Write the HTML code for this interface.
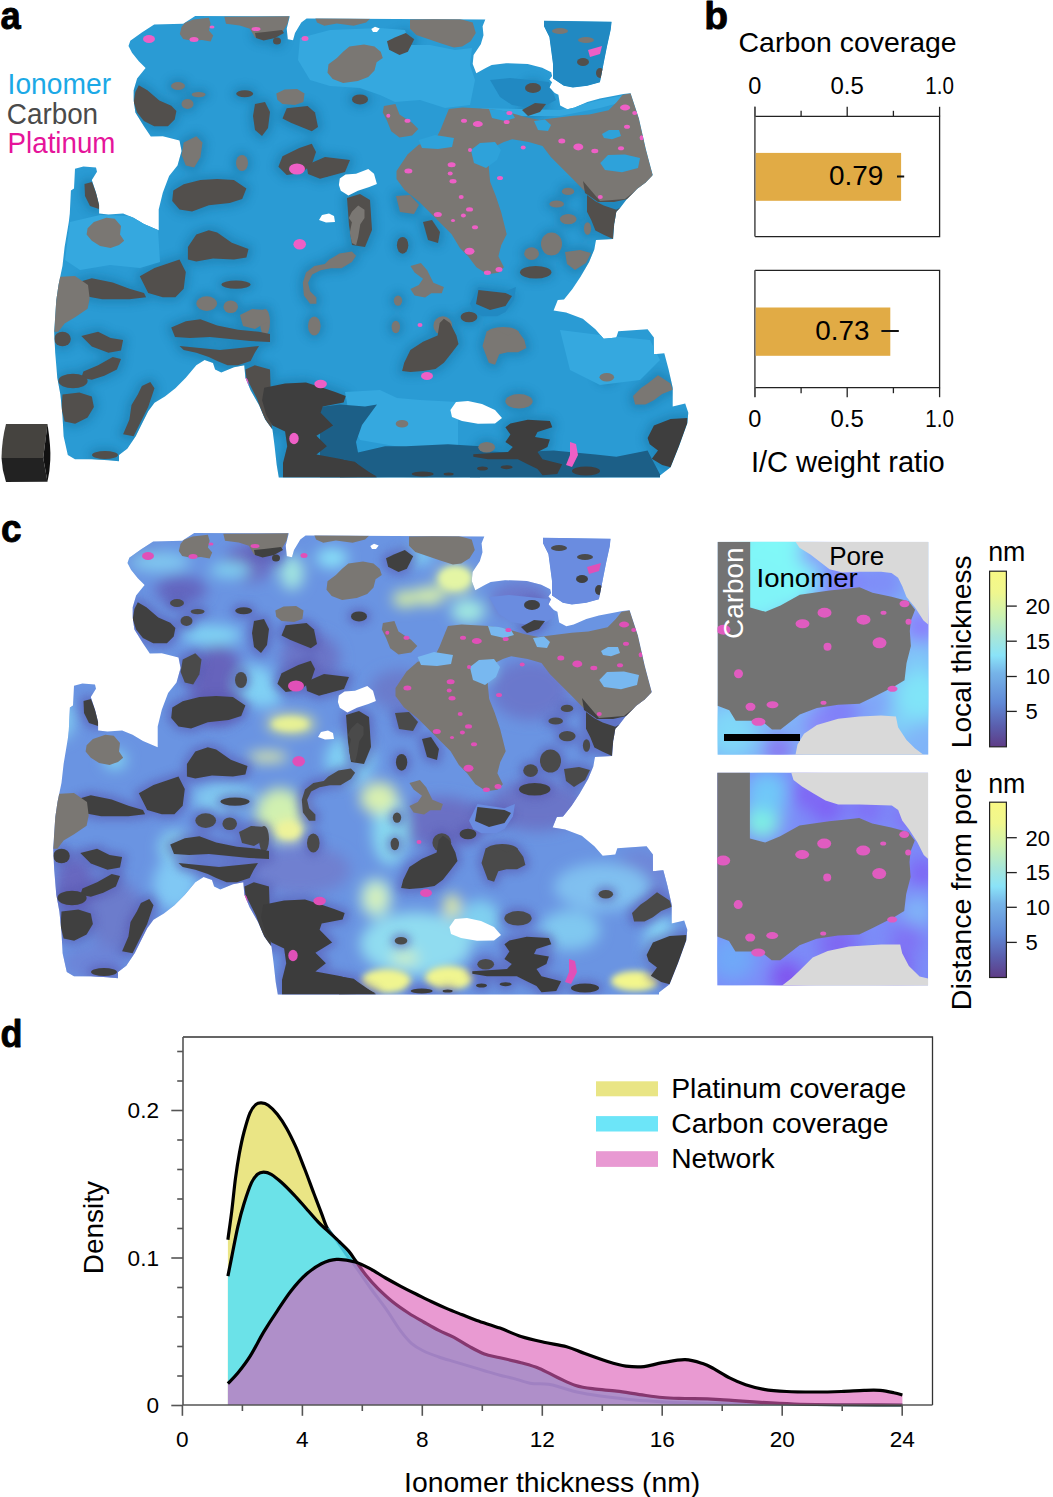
<!DOCTYPE html><html><head><meta charset="utf-8"><style>html,body{margin:0;padding:0;background:#fff;overflow:hidden;width:1053px;height:1497px;}svg{display:block;}text{font-family:"Liberation Sans",sans-serif;}</style></head><body>
<svg width="1053" height="1497" viewBox="0 0 1053 1497">
<defs>
<clipPath id="silA"><path d="M142.2,32.2 L154.2,24.5 L183.2,23.7 L195.2,16.0 L289.8,16.3 L286.7,28.8 L287.8,39.3 L293.0,40.3 L295.0,33.0 L301.3,22.5 L306.6,18.4 L485.3,19.4 L482.6,26.2 L483.5,35.3 L480.8,44.3 L473.6,55.1 L472.7,64.1 L476.3,73.2 L486.2,67.7 L491.7,65.0 L506.1,63.2 L527.7,64.1 L542.2,67.7 L551.2,72.3 L552.1,75.9 L549.4,79.5 L552.1,82.2 L549.4,87.6 L554.8,93.0 L558.4,94.8 L560.2,105.6 L567.4,109.2 L574.7,107.4 L587.3,102.0 L599.9,98.4 L614.4,95.7 L623.4,93.9 L630.6,93.2 L638.9,118.6 L645.8,148.9 L652.7,175.0 L645.5,182.5 L637.2,188.8 L626.7,199.3 L620.4,207.6 L616.3,211.8 L614.2,224.3 L613.1,239.0 L596.0,240.0 L594.3,249.4 L589.1,262.0 L580.7,276.6 L572.4,289.1 L564.0,299.5 L557.8,300.0 L553.6,310.4 L566.1,312.5 L582.8,318.8 L595.4,329.3 L603.7,338.7 L616.3,337.6 L618.3,331.3 L647.6,329.3 L653.9,337.6 L653.9,354.3 L664.3,353.3 L668.5,369.0 L672.7,387.8 L672.7,406.6 L685.2,403.4 L688.3,412.8 L687.3,423.3 L679.0,446.3 L670.6,467.2 L660.0,475.5 L660.0,477.6 L278.8,477.6 L276.7,465.0 L274.6,446.3 L272.5,429.5 L265.2,419.5 L259.0,404.9 L250.6,390.3 L245.4,377.8 L244.3,365.2 L233.9,367.3 L221.3,372.5 L215.1,369.4 L213.0,363.1 L204.6,360.0 L196.3,365.2 L185.8,377.8 L175.4,388.2 L164.9,396.6 L154.5,402.8 L148.2,411.2 L141.9,423.7 L135.7,436.3 L127.3,448.8 L119.0,455.0 L119.0,461.3 L108.5,460.3 L91.8,459.2 L75.0,459.2 L67.8,455.0 L63.6,436.3 L62.5,415.4 L60.4,394.5 L57.3,377.8 L55.2,352.7 L54.2,331.8 L56.3,300.0 L58.5,285.0 L62.5,265.8 L64.6,247.0 L68.8,222.0 L69.8,213.6 L70.9,190.6 L74.0,188.5 L75.0,168.7 L83.4,166.6 L96.0,167.6 L97.0,171.8 L91.8,180.1 L96.0,192.7 L99.1,205.2 L99.1,213.6 L108.5,214.6 L123.1,213.6 L133.6,217.8 L144.0,224.0 L158.7,230.3 L158.7,222.0 L158.7,209.4 L162.8,192.7 L169.1,176.0 L177.5,165.5 L181.6,150.9 L179.5,140.4 L162.8,136.3 L150.8,136.5 L143.9,126.2 L135.4,112.6 L133.7,100.6 L133.7,90.3 L137.1,78.4 L145.6,68.1 L138.8,61.3 L132.0,52.7 L128.5,45.9 L130.3,40.8 Z M544.0,20.8 L611.6,21.7 L610.7,29.8 L607.1,46.1 L603.5,64.1 L599.9,82.2 L587.3,85.8 L572.9,87.6 L563.8,85.8 L553.0,78.6 L553.0,64.1 L549.4,37.1 L544.0,26.2 Z"/></clipPath>
<clipPath id="silC"><path transform="translate(-1,517)" d="M142.2,32.2 L154.2,24.5 L183.2,23.7 L195.2,16.0 L289.8,16.3 L286.7,28.8 L287.8,39.3 L293.0,40.3 L295.0,33.0 L301.3,22.5 L306.6,18.4 L485.3,19.4 L482.6,26.2 L483.5,35.3 L480.8,44.3 L473.6,55.1 L472.7,64.1 L476.3,73.2 L486.2,67.7 L491.7,65.0 L506.1,63.2 L527.7,64.1 L542.2,67.7 L551.2,72.3 L552.1,75.9 L549.4,79.5 L552.1,82.2 L549.4,87.6 L554.8,93.0 L558.4,94.8 L560.2,105.6 L567.4,109.2 L574.7,107.4 L587.3,102.0 L599.9,98.4 L614.4,95.7 L623.4,93.9 L630.6,93.2 L638.9,118.6 L645.8,148.9 L652.7,175.0 L645.5,182.5 L637.2,188.8 L626.7,199.3 L620.4,207.6 L616.3,211.8 L614.2,224.3 L613.1,239.0 L596.0,240.0 L594.3,249.4 L589.1,262.0 L580.7,276.6 L572.4,289.1 L564.0,299.5 L557.8,300.0 L553.6,310.4 L566.1,312.5 L582.8,318.8 L595.4,329.3 L603.7,338.7 L616.3,337.6 L618.3,331.3 L647.6,329.3 L653.9,337.6 L653.9,354.3 L664.3,353.3 L668.5,369.0 L672.7,387.8 L672.7,406.6 L685.2,403.4 L688.3,412.8 L687.3,423.3 L679.0,446.3 L670.6,467.2 L660.0,475.5 L660.0,477.6 L278.8,477.6 L276.7,465.0 L274.6,446.3 L272.5,429.5 L265.2,419.5 L259.0,404.9 L250.6,390.3 L245.4,377.8 L244.3,365.2 L233.9,367.3 L221.3,372.5 L215.1,369.4 L213.0,363.1 L204.6,360.0 L196.3,365.2 L185.8,377.8 L175.4,388.2 L164.9,396.6 L154.5,402.8 L148.2,411.2 L141.9,423.7 L135.7,436.3 L127.3,448.8 L119.0,455.0 L119.0,461.3 L108.5,460.3 L91.8,459.2 L75.0,459.2 L67.8,455.0 L63.6,436.3 L62.5,415.4 L60.4,394.5 L57.3,377.8 L55.2,352.7 L54.2,331.8 L56.3,300.0 L58.5,285.0 L62.5,265.8 L64.6,247.0 L68.8,222.0 L69.8,213.6 L70.9,190.6 L74.0,188.5 L75.0,168.7 L83.4,166.6 L96.0,167.6 L97.0,171.8 L91.8,180.1 L96.0,192.7 L99.1,205.2 L99.1,213.6 L108.5,214.6 L123.1,213.6 L133.6,217.8 L144.0,224.0 L158.7,230.3 L158.7,222.0 L158.7,209.4 L162.8,192.7 L169.1,176.0 L177.5,165.5 L181.6,150.9 L179.5,140.4 L162.8,136.3 L150.8,136.5 L143.9,126.2 L135.4,112.6 L133.7,100.6 L133.7,90.3 L137.1,78.4 L145.6,68.1 L138.8,61.3 L132.0,52.7 L128.5,45.9 L130.3,40.8 Z M544.0,20.8 L611.6,21.7 L610.7,29.8 L607.1,46.1 L603.5,64.1 L599.9,82.2 L587.3,85.8 L572.9,87.6 L563.8,85.8 L553.0,78.6 L553.0,64.1 L549.4,37.1 L544.0,26.2 Z"/></clipPath>
<linearGradient id="cbar" x1="0" y1="1" x2="0" y2="0">
<stop offset="0" stop-color="#5e3c86"/><stop offset="0.12" stop-color="#5a5fae"/><stop offset="0.25" stop-color="#6189d6"/><stop offset="0.42" stop-color="#76b4e8"/><stop offset="0.52" stop-color="#8ae3f8"/><stop offset="0.62" stop-color="#a6e6da"/><stop offset="0.75" stop-color="#cdf2b0"/><stop offset="0.88" stop-color="#f0f78e"/><stop offset="1" stop-color="#f8f884"/>
</linearGradient>
<linearGradient id="insetIon1" x1="0" y1="0" x2="1" y2="0.3"><stop offset="0" stop-color="#7ef3f6"/><stop offset="0.45" stop-color="#86a0fb"/><stop offset="1" stop-color="#7fd6f8"/></linearGradient>
<linearGradient id="insetIon2" x1="0" y1="0" x2="1" y2="0.3"><stop offset="0" stop-color="#7fdaf8"/><stop offset="0.45" stop-color="#8a60f5"/><stop offset="1" stop-color="#7f8cf8"/></linearGradient>
<radialGradient id="insetGlow1"><stop offset="0" stop-color="#fff" stop-opacity="0"/><stop offset="1" stop-color="#fff" stop-opacity="0"/></radialGradient>
<radialGradient id="insetGlow2"><stop offset="0" stop-color="#fff" stop-opacity="0"/><stop offset="1" stop-color="#fff" stop-opacity="0"/></radialGradient>
<filter id="blurC" x="-20%" y="-20%" width="140%" height="140%"><feGaussianBlur stdDeviation="7"/></filter>
<filter id="blurY" x="-30%" y="-30%" width="160%" height="160%"><feGaussianBlur stdDeviation="3"/></filter>
<filter id="blurH" x="-30%" y="-30%" width="160%" height="160%"><feGaussianBlur stdDeviation="4"/></filter>
<filter id="blur8" x="-50%" y="-50%" width="200%" height="200%"><feGaussianBlur stdDeviation="9"/></filter>
<clipPath id="plotClip"><rect x="183" y="1037" width="750" height="368"/></clipPath>
<clipPath id="carbArea"><path d="M227.9,1276.1 C228.5,1272.9 230.0,1265.3 231.7,1257.1 C233.3,1248.9 235.8,1235.6 237.8,1226.8 C239.8,1218.0 241.6,1211.3 243.9,1204.0 C246.2,1196.7 249.2,1187.7 251.5,1182.7 C253.8,1177.8 255.5,1176.1 257.5,1174.3 C259.5,1172.5 261.3,1172.1 263.6,1172.1 C265.9,1172.1 268.1,1172.5 271.2,1174.3 C274.2,1176.1 278.1,1179.3 281.9,1182.7 C285.7,1186.1 289.9,1190.5 294.0,1194.8 C298.1,1199.1 302.1,1203.9 306.2,1208.5 C310.2,1213.1 314.8,1218.5 318.3,1222.2 C321.8,1225.9 323.8,1227.3 327.4,1230.6 C330.9,1233.9 336.1,1238.6 339.6,1242.0 C343.2,1245.4 345.9,1247.8 348.7,1251.1 C351.5,1254.4 353.4,1257.7 356.3,1261.7 C359.2,1265.7 362.2,1270.5 365.8,1275.0 C369.4,1279.5 373.4,1284.0 378.0,1288.6 C382.6,1293.1 388.1,1298.2 393.2,1302.3 C398.3,1306.4 403.3,1309.7 408.4,1313.0 C413.5,1316.3 418.5,1319.1 423.6,1322.0 C428.7,1324.9 433.7,1327.9 438.8,1330.4 C443.9,1333.0 448.9,1334.6 454.0,1337.3 C459.1,1340.0 464.1,1343.6 469.2,1346.4 C474.3,1349.2 479.3,1352.1 484.4,1354.0 C489.5,1355.9 493.9,1356.3 500.0,1357.8 C506.1,1359.2 514.5,1360.9 521.0,1362.7 C527.5,1364.5 533.2,1365.9 539.3,1368.4 C545.4,1370.9 551.4,1374.7 557.5,1377.5 C563.6,1380.3 569.6,1383.6 575.7,1385.5 C581.8,1387.4 587.1,1388.0 594.0,1388.9 C600.9,1389.9 609.2,1390.2 616.8,1391.2 C624.4,1392.2 631.9,1393.5 639.5,1394.6 C647.1,1395.6 654.7,1396.8 662.3,1397.5 C669.9,1398.2 675.5,1398.2 685.1,1398.5 C694.7,1398.8 701.9,1398.7 720.0,1399.6 C738.1,1400.5 763.6,1403.1 794.0,1404.0 C824.4,1404.9 884.2,1404.8 902.3,1405.0 L902.3,1405 L227.9,1405 Z"/></clipPath>
<clipPath id="platArea"><path d="M227.9,1239.7 C228.5,1235.0 230.4,1221.9 231.7,1211.6 C233.0,1201.3 234.2,1187.7 235.5,1178.1 C236.8,1168.5 237.9,1161.4 239.3,1153.8 C240.7,1146.2 242.1,1139.3 243.9,1132.5 C245.7,1125.7 248.0,1117.5 250.0,1112.8 C252.0,1108.1 254.1,1106.1 256.0,1104.4 C257.9,1102.8 259.3,1102.8 261.3,1102.9 C263.3,1103.0 265.5,1103.3 268.2,1105.2 C270.9,1107.1 274.3,1110.5 277.3,1114.3 C280.3,1118.1 283.4,1122.7 286.4,1128.0 C289.4,1133.3 292.4,1139.4 295.5,1146.2 C298.6,1153.0 301.6,1161.2 304.7,1169.0 C307.8,1176.8 311.0,1186.0 313.8,1193.3 C316.6,1200.6 319.1,1207.3 321.4,1213.1 C323.7,1218.9 324.9,1223.8 327.4,1228.3 C329.9,1232.8 333.5,1236.1 336.6,1240.4 C339.7,1244.7 342.9,1249.7 346.0,1254.0 C349.1,1258.3 351.1,1260.3 355.2,1266.0 C359.3,1271.7 365.3,1280.9 370.4,1288.0 C375.5,1295.1 380.5,1301.2 385.6,1308.4 C390.7,1315.6 396.5,1325.4 400.8,1331.2 C405.1,1337.0 407.6,1340.0 411.4,1343.3 C415.2,1346.6 419.0,1348.7 423.6,1351.0 C428.2,1353.3 433.7,1355.2 438.8,1357.0 C443.9,1358.8 448.9,1360.1 454.0,1361.6 C459.1,1363.1 464.1,1364.6 469.2,1366.1 C474.3,1367.6 479.3,1369.2 484.4,1370.7 C489.5,1372.2 495.0,1373.9 500.0,1375.2 C505.0,1376.5 509.2,1377.3 514.2,1378.6 C519.2,1379.9 524.4,1382.2 530.1,1383.2 C535.8,1384.2 543.1,1383.5 548.4,1384.3 C553.7,1385.0 557.1,1386.4 562.0,1387.7 C566.9,1389.0 571.9,1391.0 578.0,1392.3 C584.1,1393.6 591.3,1394.7 598.5,1395.7 C605.7,1396.7 613.7,1397.7 621.3,1398.5 C628.9,1399.3 635.4,1400.0 644.1,1400.7 C652.8,1401.4 661.1,1402.1 673.7,1402.6 C686.4,1403.1 699.0,1403.4 720.0,1403.7 C741.0,1404.0 769.6,1404.3 800.0,1404.5 C830.4,1404.7 885.2,1404.9 902.3,1405.0 L902.3,1405 L227.9,1405 Z"/></clipPath>
</defs>
<g stroke="#000" stroke-width="0.9" stroke-linejoin="round">
<text x="0.4" y="29.2" font-size="39.5" font-weight="bold" textLength="20.2" lengthAdjust="spacingAndGlyphs">a</text>
<text x="704.2" y="29.2" font-size="39.5" font-weight="bold" textLength="23.8" lengthAdjust="spacingAndGlyphs">b</text>
<text x="0.9" y="542" font-size="39.5" font-weight="bold" textLength="20.6" lengthAdjust="spacingAndGlyphs">c</text>
<text x="0.4" y="1047.2" font-size="39.5" font-weight="bold" textLength="22" lengthAdjust="spacingAndGlyphs">d</text>
</g>
<text x="7.6" y="94.2" font-size="29" fill="#1ba9e6" textLength="103.5" lengthAdjust="spacingAndGlyphs">Ionomer</text>
<text x="6.8" y="123.6" font-size="29" fill="#4a4a4a" textLength="91.3" lengthAdjust="spacingAndGlyphs">Carbon</text>
<text x="7.6" y="153.4" font-size="29" fill="#e5149a" textLength="107.8" lengthAdjust="spacingAndGlyphs">Platinum</text>
<g clip-path="url(#silA)">
<rect x="40" y="10" width="660" height="475" fill="#2a9bd4"/>
<g filter="url(#blurH)" opacity="0.45">
<path d="M583.0,181.0 L600.0,201.0 L625.0,199.0 L645.0,183.0 L652.7,175.0 L651.0,181.0 L640.0,193.0 L628.0,199.0 L614.0,202.0 L598.0,202.0 L585.0,193.0 Z" fill="#17709f" stroke="#17709f" stroke-width="9" stroke-linejoin="round"/>
<path d="M587.0,195.0 L595.4,201.3 L603.7,205.5 L616.3,209.7 L620.4,207.6 L614.2,224.3 L613.1,239.0 L603.7,234.8 L595.4,230.6 L591.2,220.1 L587.0,211.8 Z" fill="#17709f" stroke="#17709f" stroke-width="9" stroke-linejoin="round"/>
<path d="M255.0,33.0 L265.0,32.0 L282.0,30.0 L284.0,33.0 L275.0,38.0 L263.6,40.5 L256.0,38.0 Z" fill="#17709f" stroke="#17709f" stroke-width="9" stroke-linejoin="round"/>
<path d="M395.4,37.2 L405.8,33.0 L414.2,39.3 L407.9,51.8 L399.5,54.9 L389.1,49.7 L387.0,41.3 Z" fill="#17709f" stroke="#17709f" stroke-width="9" stroke-linejoin="round"/>
<path d="M135.4,92.0 L138.8,85.2 L147.4,90.3 L159.3,100.6 L171.3,105.7 L176.4,110.9 L174.7,119.4 L167.9,126.2 L154.2,126.2 L143.9,121.1 L137.1,112.6 L133.7,102.3 Z" fill="#17709f" stroke="#17709f" stroke-width="9" stroke-linejoin="round"/>
<ellipse cx="178" cy="86" rx="11" ry="8" fill="#17709f"/>
<ellipse cx="187.5" cy="104" rx="10" ry="9" fill="#17709f"/>
<ellipse cx="198.6" cy="94.6" rx="11" ry="6.6" fill="#17709f"/>
<ellipse cx="244.7" cy="93.7" rx="12.5" ry="7.5" fill="#17709f"/>
<path d="M255.0,104.0 L265.0,102.0 L270.0,112.0 L268.0,128.0 L262.0,136.0 L255.0,130.0 L253.0,116.0 Z" fill="#17709f" stroke="#17709f" stroke-width="9" stroke-linejoin="round"/>
<ellipse cx="277" cy="41" rx="8" ry="7.5" fill="#17709f"/>
<path d="M282.5,156.3 L299.3,147.9 L311.8,143.7 L316.0,152.1 L311.8,164.6 L301.3,173.0 L286.7,175.0 L278.4,166.7 Z" fill="#17709f" stroke="#17709f" stroke-width="9" stroke-linejoin="round"/>
<ellipse cx="360" cy="99.4" rx="12" ry="9" fill="#17709f"/>
<path d="M286.7,108.2 L307.6,106.1 L315.0,112.4 L318.0,127.0 L311.8,131.2 L301.3,127.0 L290.9,122.8 L282.5,118.6 Z" fill="#17709f" stroke="#17709f" stroke-width="9" stroke-linejoin="round"/>
<ellipse cx="322" cy="170" rx="17" ry="11" fill="#17709f"/>
<path d="M306.5,165.0 L325.0,157.0 L350.0,160.0 L345.0,172.0 L320.0,178.7 L308.0,174.0 Z" fill="#17709f" stroke="#17709f" stroke-width="9" stroke-linejoin="round"/>
<path d="M347.0,198.0 L360.0,194.0 L370.0,200.0 L372.0,230.0 L365.0,247.0 L352.0,245.0 L349.0,225.0 Z" fill="#17709f" stroke="#17709f" stroke-width="9" stroke-linejoin="round"/>
<path d="M84.5,184.0 L92.0,182.0 L99.0,200.0 L99.0,209.0 L90.0,206.0 L85.0,196.0 Z" fill="#17709f" stroke="#17709f" stroke-width="9" stroke-linejoin="round"/>
<path d="M77.2,282.5 L91.8,278.3 L112.7,282.5 L129.4,288.8 L144.0,293.0 L146.1,297.2 L129.4,299.2 L102.2,299.2 L79.3,295.1 Z" fill="#17709f" stroke="#17709f" stroke-width="9" stroke-linejoin="round"/>
<path d="M139.8,276.3 L154.5,267.9 L167.0,263.7 L179.5,259.5 L185.8,272.1 L183.7,288.8 L175.4,297.2 L162.8,297.2 L148.2,293.0 Z" fill="#17709f" stroke="#17709f" stroke-width="9" stroke-linejoin="round"/>
<path d="M173.3,190.6 L183.7,184.3 L200.4,180.1 L217.2,179.1 L233.9,180.1 L246.4,188.5 L242.2,199.0 L229.7,203.1 L208.8,205.2 L192.1,211.5 L179.5,209.4 L172.2,201.0 Z" fill="#17709f" stroke="#17709f" stroke-width="9" stroke-linejoin="round"/>
<path d="M183.7,142.5 L196.3,136.3 L202.5,142.5 L200.4,157.2 L194.2,167.6 L185.8,165.5 L181.6,155.1 Z" fill="#17709f" stroke="#17709f" stroke-width="9" stroke-linejoin="round"/>
<ellipse cx="242" cy="163" rx="10" ry="12" fill="#17709f"/>
<path d="M187.9,247.0 L196.3,234.5 L208.8,230.3 L217.2,232.4 L231.8,242.8 L248.5,249.1 L246.4,257.5 L233.9,259.5 L213.0,258.5 L196.3,261.6 L187.9,259.5 Z" fill="#17709f" stroke="#17709f" stroke-width="9" stroke-linejoin="round"/>
<ellipse cx="236" cy="284.6" rx="18.6" ry="8.2" fill="#17709f"/>
<path d="M329.0,259.8 L339.4,253.6 L351.9,251.5 L356.1,255.7 L351.9,261.9 L341.5,268.2 L331.0,268.2 L320.6,270.3 L312.2,274.5 L308.1,282.8 L310.1,291.2 L316.4,297.5 L316.4,303.7 L310.1,303.7 L303.9,295.4 L302.8,282.8 L306.0,272.4 L314.3,266.1 L324.8,264.0 Z" fill="#17709f" stroke="#17709f" stroke-width="9" stroke-linejoin="round"/>
<path d="M358.2,205.5 L364.5,209.7 L364.5,218.1 L360.3,224.3 L358.2,236.9 L356.1,245.2 L351.9,243.1 L349.8,232.7 L351.9,222.2 L348.8,218.1 L351.9,211.8 Z" fill="#17709f" stroke="#17709f" stroke-width="9" stroke-linejoin="round"/>
<ellipse cx="402.6" cy="245.3" rx="9.7" ry="12.4" fill="#17709f"/>
<ellipse cx="314.3" cy="326" rx="10.3" ry="13.4" fill="#17709f"/>
<ellipse cx="469" cy="317" rx="12.4" ry="9.3" fill="#17709f"/>
<ellipse cx="442.8" cy="325.7" rx="13.4" ry="13.4" fill="#17709f"/>
<ellipse cx="398" cy="300.6" rx="8.2" ry="9.2" fill="#17709f"/>
<ellipse cx="265" cy="322" rx="9" ry="17" fill="#17709f"/>
<ellipse cx="395.8" cy="327" rx="8.2" ry="10.2" fill="#17709f"/>
<path d="M396.0,196.0 L410.0,195.0 L419.0,205.0 L414.0,214.0 L400.0,212.0 Z" fill="#17709f" stroke="#17709f" stroke-width="9" stroke-linejoin="round"/>
<path d="M423.0,222.0 L432.0,220.0 L440.0,232.0 L438.0,243.0 L428.0,240.0 Z" fill="#17709f" stroke="#17709f" stroke-width="9" stroke-linejoin="round"/>
<ellipse cx="551.5" cy="244" rx="14.5" ry="15.5" fill="#17709f"/>
<ellipse cx="531.6" cy="253.6" rx="11.4" ry="10.3" fill="#17709f"/>
<path d="M565.0,252.0 L580.0,250.0 L591.0,253.0 L586.0,263.0 L575.0,270.0 L567.0,264.0 Z" fill="#17709f" stroke="#17709f" stroke-width="9" stroke-linejoin="round"/>
<ellipse cx="535.7" cy="272.3" rx="19.7" ry="10.3" fill="#17709f"/>
<ellipse cx="568.2" cy="219.1" rx="12.4" ry="9.2" fill="#17709f"/>
<ellipse cx="556.7" cy="204" rx="11.3" ry="7.6" fill="#17709f"/>
<ellipse cx="568" cy="191.4" rx="10.2" ry="7.6" fill="#17709f"/>
<ellipse cx="587.5" cy="228.5" rx="7.6" ry="10.3" fill="#17709f"/>
<path d="M478.4,290.0 L505.5,293.0 L512.0,296.0 L505.5,306.0 L490.0,310.0 L476.0,304.0 Z" fill="#17709f" stroke="#17709f" stroke-width="9" stroke-linejoin="round"/>
<ellipse cx="503" cy="333" rx="20" ry="10" fill="#17709f"/>
<ellipse cx="62.5" cy="339" rx="12.3" ry="11.3" fill="#17709f"/>
<path d="M81.3,336.0 L98.1,331.8 L110.6,338.1 L123.1,340.1 L121.0,350.6 L108.5,352.7 L91.8,346.4 Z" fill="#17709f" stroke="#17709f" stroke-width="9" stroke-linejoin="round"/>
<path d="M83.4,371.5 L98.1,365.2 L112.7,356.9 L121.0,359.0 L116.9,369.4 L104.3,375.7 L91.8,379.8 L81.3,377.8 Z" fill="#17709f" stroke="#17709f" stroke-width="9" stroke-linejoin="round"/>
<ellipse cx="73" cy="381" rx="18.6" ry="11.3" fill="#17709f"/>
<path d="M62.5,394.5 L79.3,392.4 L91.8,396.6 L93.9,407.0 L87.6,417.5 L75.1,423.7 L64.6,421.6 L61.5,409.1 Z" fill="#17709f" stroke="#17709f" stroke-width="9" stroke-linejoin="round"/>
<path d="M150.3,382.0 L154.5,388.2 L148.2,407.0 L139.8,423.7 L133.6,436.3 L123.1,434.2 L129.4,419.5 L131.5,404.9 L137.8,394.5 L141.9,386.1 Z" fill="#17709f" stroke="#17709f" stroke-width="9" stroke-linejoin="round"/>
<ellipse cx="105" cy="455" rx="17" ry="8" fill="#17709f"/>
<path d="M171.2,327.6 L185.8,321.3 L200.4,319.3 L217.2,325.5 L238.0,329.7 L258.9,331.8 L270.0,333.9 L270.0,342.0 L250.0,341.0 L230.0,339.0 L210.0,337.0 L190.0,338.0 L175.0,337.0 Z" fill="#17709f" stroke="#17709f" stroke-width="9" stroke-linejoin="round"/>
<path d="M179.5,346.0 L200.0,348.0 L220.0,350.0 L240.0,348.0 L259.0,346.0 L254.8,352.7 L250.6,361.0 L238.0,365.2 L227.6,365.2 L217.2,361.0 L208.8,356.9 L196.3,352.7 L183.7,350.0 Z" fill="#17709f" stroke="#17709f" stroke-width="9" stroke-linejoin="round"/>
<ellipse cx="206.7" cy="303.6" rx="14.4" ry="11.3" fill="#17709f"/>
<ellipse cx="230.7" cy="306.7" rx="11.3" ry="10.3" fill="#17709f"/>
<path d="M240.0,315.0 L252.0,309.0 L267.0,310.0 L267.0,322.0 L255.0,329.0 L243.0,326.0 Z" fill="#17709f" stroke="#17709f" stroke-width="9" stroke-linejoin="round"/>
<path d="M245.4,369.4 L254.8,365.2 L270.0,369.4 L272.0,432.1 L263.1,415.4 L256.9,398.6 L250.6,386.1 L246.4,377.8 Z" fill="#17709f" stroke="#17709f" stroke-width="9" stroke-linejoin="round"/>
<path d="M264.2,387.8 L285.1,383.6 L306.0,382.5 L322.7,387.8 L335.2,391.9 L345.7,396.1 L343.6,402.4 L322.7,406.6 L320.6,412.8 L333.1,425.4 L316.4,435.8 L326.9,446.3 L316.4,454.6 L339.4,458.8 L356.1,463.0 L377.0,477.6 L283.0,477.6 L283.0,463.0 L287.2,446.3 L285.1,431.6 L272.5,425.4 L266.3,414.9 L262.1,400.3 Z" fill="#17709f" stroke="#17709f" stroke-width="9" stroke-linejoin="round"/>
<path d="M404.2,362.7 L410.4,350.1 L423.0,341.8 L437.6,335.5 L439.7,323.0 L443.9,318.8 L450.1,323.0 L456.4,335.5 L458.5,343.9 L452.2,352.2 L443.9,362.7 L435.5,369.0 L423.0,371.0 L410.4,372.1 L402.1,371.0 Z" fill="#17709f" stroke="#17709f" stroke-width="9" stroke-linejoin="round"/>
<ellipse cx="402" cy="423.7" rx="10.3" ry="7.8" fill="#17709f"/>
<path d="M647.6,437.9 L653.9,425.4 L670.6,419.1 L687.3,418.0 L687.3,423.3 L679.0,446.3 L670.6,467.2 L662.2,465.1 L651.8,458.8 L658.0,450.4 L649.7,444.2 Z" fill="#17709f" stroke="#17709f" stroke-width="9" stroke-linejoin="round"/>
<path d="M510.4,423.5 L527.7,419.8 L549.9,421.0 L552.3,427.2 L537.5,432.0 L535.0,437.0 L549.9,439.5 L547.4,447.0 L537.5,451.9 L542.5,459.3 L562.2,464.2 L557.3,474.0 L542.5,475.3 L537.5,469.0 L527.7,464.2 L517.8,459.3 L488.0,459.3 L473.3,456.8 L473.3,454.3 L493.0,453.0 L508.0,451.9 L512.8,447.0 L505.4,442.0 L510.4,434.6 L505.4,427.2 Z" fill="#17709f" stroke="#17709f" stroke-width="9" stroke-linejoin="round"/>
<path d="M340.0,459.3 L354.8,461.7 L362.2,469.0 L377.0,476.5 L340.0,477.6 Z" fill="#17709f" stroke="#17709f" stroke-width="9" stroke-linejoin="round"/>
<ellipse cx="422.7" cy="474" rx="15" ry="6.6" fill="#17709f"/>
<ellipse cx="448.6" cy="474" rx="9" ry="5.5" fill="#17709f"/>
<ellipse cx="482.5" cy="468.5" rx="9.5" ry="6" fill="#17709f"/>
<ellipse cx="506.6" cy="467.2" rx="10" ry="6" fill="#17709f"/>
<ellipse cx="586" cy="471" rx="18" ry="8.5" fill="#17709f"/>
<path d="M486.7,331.3 L495.1,329.3 L507.6,335.5 L518.1,331.3 L524.3,339.7 L526.4,348.1 L518.1,352.2 L507.6,352.2 L499.3,354.3 L495.1,364.8 L488.8,362.7 L482.5,346.0 Z" fill="#17709f" stroke="#17709f" stroke-width="9" stroke-linejoin="round"/>
<ellipse cx="519" cy="401.3" rx="17.6" ry="11.3" fill="#17709f"/>
<path d="M633.0,396.1 L641.3,387.8 L647.6,383.6 L658.0,375.2 L670.6,383.6 L672.7,389.8 L662.2,394.0 L653.9,400.3 L645.5,404.5 L635.1,404.5 Z" fill="#17709f" stroke="#17709f" stroke-width="9" stroke-linejoin="round"/>
<ellipse cx="606.8" cy="377.3" rx="11.3" ry="8.2" fill="#17709f"/>
<ellipse cx="486.7" cy="447.3" rx="12.4" ry="9.2" fill="#17709f"/>
<ellipse cx="560" cy="31" rx="12" ry="7" fill="#17709f"/>
<ellipse cx="586" cy="40" rx="12" ry="7" fill="#17709f"/>
<ellipse cx="583" cy="62" rx="10" ry="8" fill="#17709f"/>
<ellipse cx="600" cy="73" rx="8" ry="9" fill="#17709f"/>
<ellipse cx="533" cy="88" rx="12" ry="9" fill="#17709f"/>
<path d="M522.0,110.0 L535.0,103.0 L546.0,104.0 L540.0,112.0 L528.0,116.0 Z" fill="#17709f" stroke="#17709f" stroke-width="9" stroke-linejoin="round"/>
</g>
<path d="M300.0,38.0 L330.0,30.0 L380.0,28.0 L405.0,30.0 L410.0,45.0 L430.0,45.0 L455.0,50.0 L472.0,48.0 L470.0,65.0 L475.0,80.0 L470.0,105.0 L445.0,108.0 L420.0,100.0 L395.0,102.0 L380.0,95.0 L360.0,88.0 L330.0,86.0 L310.0,80.0 L298.0,60.0 Z" fill="#35a8df"/>
<path d="M70.0,222.0 L100.0,215.0 L130.0,216.0 L158.0,230.0 L160.0,262.0 L140.0,268.0 L110.0,265.0 L80.0,270.0 L65.0,260.0 Z" fill="#35a8df"/>
<path d="M345.0,392.0 L380.0,390.0 L397.0,398.0 L420.0,400.0 L458.0,402.0 L458.0,447.0 L400.0,447.0 L360.0,440.0 L350.0,420.0 Z" fill="#35a8df"/>
<path d="M560.0,330.0 L600.0,335.0 L650.0,340.0 L660.0,360.0 L640.0,380.0 L600.0,385.0 L570.0,370.0 Z" fill="#35a8df"/>
<path d="M480.0,108.0 L560.0,110.0 L600.0,100.0 L630.0,94.0 L630.0,100.0 L600.0,108.0 L560.0,116.0 L520.0,116.0 L490.0,112.0 Z" fill="#35a8df"/>
<path d="M320.0,407.0 L340.0,404.5 L365.0,406.6 L377.0,404.5 L362.0,425.0 L356.0,442.0 L358.0,452.5 L385.0,446.3 L406.0,446.3 L448.0,444.2 L480.0,446.3 L480.0,477.6 L320.0,477.6 Z" fill="#1c5f87"/>
<path d="M470.0,450.4 L511.8,452.5 L553.6,450.4 L595.4,454.6 L616.3,456.7 L647.6,450.4 L651.8,458.8 L660.1,474.5 L660.0,477.6 L470.0,477.6 Z" fill="#1c5f87"/>
<path d="M544.0,20.8 L611.6,21.7 L610.7,29.8 L607.1,46.1 L603.5,64.1 L599.9,82.2 L587.3,85.8 L572.9,87.6 L563.8,85.8 L553.0,78.6 L553.0,64.1 L549.4,37.1 L544.0,26.2 Z" fill="#2189c2"/>
<path d="M490.0,80.0 L510.0,78.0 L530.0,80.0 L549.0,82.0 L552.0,90.0 L556.0,100.0 L545.0,106.0 L530.0,108.0 L512.0,105.0 L500.0,97.0 Z" fill="#2189c2"/>
<path d="M448.9,108.9 L462.6,107.5 L490.0,109.0 L506.7,111.7 L526.0,117.2 L539.7,120.0 L550.8,118.6 L572.8,115.8 L589.3,114.4 L608.6,110.3 L616.8,102.0 L622.4,95.1 L630.6,93.2 L638.9,118.6 L645.8,148.9 L652.7,175.0 L651.3,179.1 L638.9,192.9 L627.9,198.4 L614.1,201.2 L597.6,201.2 L583.8,190.2 L572.8,179.1 L561.8,168.1 L550.8,157.1 L542.5,146.1 L528.7,142.0 L512.2,139.2 L503.9,142.0 L495.7,146.1 L490.2,154.4 L488.8,168.1 L490.2,181.9 L495.7,195.7 L501.2,212.2 L506.7,234.2 L501.2,245.2 L498.4,256.3 L503.9,267.3 L498.4,272.8 L487.4,274.2 L476.4,267.3 L468.1,256.3 L459.9,248.0 L451.6,234.2 L440.6,223.2 L429.6,212.2 L418.6,201.2 L404.8,190.2 L396.5,179.1 L396.5,170.9 L407.5,154.4 L418.6,144.7 L435.1,140.6 L440.6,129.6 L446.1,115.8 Z" fill="#7a7773"/>
<path d="M470.9,150.0 L480.0,143.0 L495.0,142.0 L501.0,150.0 L497.0,160.0 L486.0,168.0 L474.0,163.0 Z" fill="#2ea2da"/>
<path d="M418.6,140.0 L435.0,135.0 L454.0,138.0 L452.0,147.0 L438.0,149.0 L422.0,148.0 Z" fill="#2ea2da"/>
<path d="M600.3,163.0 L608.0,155.0 L625.0,154.4 L640.0,158.0 L638.0,168.0 L622.0,172.3 L605.0,170.0 Z" fill="#2ea2da"/>
<path d="M602.0,134.0 L609.0,130.0 L619.0,130.0 L621.0,136.0 L612.0,139.2 L604.0,138.0 Z" fill="#2ea2da"/>
<path d="M534.0,121.0 L545.0,119.5 L551.0,125.0 L548.0,131.0 L538.0,130.0 Z" fill="#2ea2da"/>
<path d="M489.0,109.0 L500.0,110.0 L512.0,113.0 L515.0,118.0 L505.0,121.0 L492.0,118.0 Z" fill="#2ea2da"/>
<path d="M583.0,181.0 L600.0,201.0 L625.0,199.0 L645.0,183.0 L652.7,175.0 L651.0,181.0 L640.0,193.0 L628.0,199.0 L614.0,202.0 L598.0,202.0 L585.0,193.0 Z" fill="#524f4c"/>
<path d="M587.0,195.0 L595.4,201.3 L603.7,205.5 L616.3,209.7 L620.4,207.6 L614.2,224.3 L613.1,239.0 L603.7,234.8 L595.4,230.6 L591.2,220.1 L587.0,211.8 Z" fill="#524f4c"/>
<path d="M185.0,22.8 L193.5,19.4 L208.9,17.7 L210.6,23.7 L208.9,30.5 L213.2,35.6 L210.6,41.6 L202.0,39.9 L191.8,40.8 L183.2,39.1 L179.8,33.9 L181.5,27.1 Z" fill="#7a7773"/>
<path d="M224.3,16.8 L289.2,16.0 L287.5,23.7 L282.4,32.2 L273.8,37.4 L263.6,39.9 L255.0,37.4 L249.9,28.8 L239.7,25.4 L226.0,23.7 Z" fill="#7a7773"/>
<path d="M255.0,33.0 L265.0,32.0 L282.0,30.0 L284.0,33.0 L275.0,38.0 L263.6,40.5 L256.0,38.0 Z" fill="#524f4c"/>
<path d="M315.0,17.3 L370.3,18.4 L366.1,22.5 L353.6,25.7 L336.9,23.6 L324.3,25.7 L317.0,22.5 Z" fill="#7a7773"/>
<path d="M410.0,19.4 L458.0,18.4 L472.7,22.5 L475.8,33.0 L470.6,41.3 L462.2,46.6 L453.9,47.6 L441.3,43.4 L428.8,39.3 L416.3,35.1 L410.0,28.8 Z" fill="#7a7773"/>
<path d="M395.4,37.2 L405.8,33.0 L414.2,39.3 L407.9,51.8 L399.5,54.9 L389.1,49.7 L387.0,41.3 Z" fill="#524f4c"/>
<path d="M328.5,64.3 L336.9,58.1 L343.1,51.8 L349.4,46.6 L364.0,44.5 L374.5,46.6 L380.7,51.8 L382.8,58.1 L376.6,62.2 L374.5,70.6 L368.2,76.9 L357.8,81.0 L343.1,83.1 L332.7,79.0 L327.5,72.7 Z" fill="#7a7773"/>
<path d="M276.3,93.6 L284.6,89.4 L297.2,89.0 L304.5,93.6 L303.4,101.9 L295.1,105.1 L282.5,104.0 L277.3,99.8 Z" fill="#7a7773"/>
<path d="M135.4,92.0 L138.8,85.2 L147.4,90.3 L159.3,100.6 L171.3,105.7 L176.4,110.9 L174.7,119.4 L167.9,126.2 L154.2,126.2 L143.9,121.1 L137.1,112.6 L133.7,102.3 Z" fill="#524f4c"/>
<ellipse cx="178" cy="86" rx="7" ry="4" fill="#7a7773"/>
<ellipse cx="187.5" cy="104" rx="6" ry="5" fill="#7a7773"/>
<ellipse cx="198.6" cy="94.6" rx="7" ry="2.6" fill="#7a7773"/>
<ellipse cx="244.7" cy="93.7" rx="8.5" ry="3.5" fill="#524f4c"/>
<path d="M255.0,104.0 L265.0,102.0 L270.0,112.0 L268.0,128.0 L262.0,136.0 L255.0,130.0 L253.0,116.0 Z" fill="#524f4c"/>
<ellipse cx="277" cy="41" rx="4" ry="3.5" fill="#524f4c"/>
<path d="M383.9,106.1 L395.4,104.0 L399.5,114.5 L412.1,122.8 L418.3,129.1 L412.1,135.4 L399.5,137.5 L391.2,131.2 L387.0,120.7 L382.8,112.4 Z" fill="#7a7773"/>
<path d="M282.5,156.3 L299.3,147.9 L311.8,143.7 L316.0,152.1 L311.8,164.6 L301.3,173.0 L286.7,175.0 L278.4,166.7 Z" fill="#524f4c"/>
<ellipse cx="360" cy="99.4" rx="8" ry="5" fill="#524f4c"/>
<path d="M286.7,108.2 L307.6,106.1 L315.0,112.4 L318.0,127.0 L311.8,131.2 L301.3,127.0 L290.9,122.8 L282.5,118.6 Z" fill="#524f4c"/>
<ellipse cx="322" cy="170" rx="13" ry="7" fill="#524f4c"/>
<path d="M306.5,165.0 L325.0,157.0 L350.0,160.0 L345.0,172.0 L320.0,178.7 L308.0,174.0 Z" fill="#524f4c"/>
<path d="M347.0,198.0 L360.0,194.0 L370.0,200.0 L372.0,230.0 L365.0,247.0 L352.0,245.0 L349.0,225.0 Z" fill="#524f4c"/>
<path d="M87.6,228.2 L93.9,221.9 L106.4,217.8 L114.8,218.8 L121.0,226.1 L120.0,234.5 L124.2,240.7 L119.0,244.9 L110.6,248.0 L100.1,246.0 L91.8,240.7 L86.6,234.5 Z" fill="#7a7773"/>
<path d="M84.5,184.0 L92.0,182.0 L99.0,200.0 L99.0,209.0 L90.0,206.0 L85.0,196.0 Z" fill="#524f4c"/>
<path d="M77.2,282.5 L91.8,278.3 L112.7,282.5 L129.4,288.8 L144.0,293.0 L146.1,297.2 L129.4,299.2 L102.2,299.2 L79.3,295.1 Z" fill="#524f4c"/>
<path d="M56.3,277.0 L75.0,276.0 L88.0,285.0 L89.7,298.4 L87.6,308.8 L75.1,317.2 L64.6,323.4 L58.4,331.8 L54.2,331.8 L55.2,300.0 Z" fill="#7a7773"/>
<path d="M139.8,276.3 L154.5,267.9 L167.0,263.7 L179.5,259.5 L185.8,272.1 L183.7,288.8 L175.4,297.2 L162.8,297.2 L148.2,293.0 Z" fill="#524f4c"/>
<path d="M173.3,190.6 L183.7,184.3 L200.4,180.1 L217.2,179.1 L233.9,180.1 L246.4,188.5 L242.2,199.0 L229.7,203.1 L208.8,205.2 L192.1,211.5 L179.5,209.4 L172.2,201.0 Z" fill="#524f4c"/>
<path d="M183.7,142.5 L196.3,136.3 L202.5,142.5 L200.4,157.2 L194.2,167.6 L185.8,165.5 L181.6,155.1 Z" fill="#7a7773"/>
<ellipse cx="242" cy="163" rx="6" ry="8" fill="#7a7773"/>
<path d="M187.9,247.0 L196.3,234.5 L208.8,230.3 L217.2,232.4 L231.8,242.8 L248.5,249.1 L246.4,257.5 L233.9,259.5 L213.0,258.5 L196.3,261.6 L187.9,259.5 Z" fill="#524f4c"/>
<ellipse cx="236" cy="284.6" rx="14.6" ry="4.2" fill="#524f4c"/>
<path d="M329.0,259.8 L339.4,253.6 L351.9,251.5 L356.1,255.7 L351.9,261.9 L341.5,268.2 L331.0,268.2 L320.6,270.3 L312.2,274.5 L308.1,282.8 L310.1,291.2 L316.4,297.5 L316.4,303.7 L310.1,303.7 L303.9,295.4 L302.8,282.8 L306.0,272.4 L314.3,266.1 L324.8,264.0 Z" fill="#7a7773"/>
<path d="M358.2,205.5 L364.5,209.7 L364.5,218.1 L360.3,224.3 L358.2,236.9 L356.1,245.2 L351.9,243.1 L349.8,232.7 L351.9,222.2 L348.8,218.1 L351.9,211.8 Z" fill="#7a7773"/>
<ellipse cx="402.6" cy="245.3" rx="5.7" ry="8.4" fill="#524f4c"/>
<path d="M410.4,266.1 L420.9,263.0 L427.2,270.3 L433.4,282.8 L443.9,287.0 L441.8,293.3 L431.3,293.3 L425.1,297.5 L414.6,295.4 L410.4,289.1 L418.8,284.9 L423.0,278.7 L414.6,272.4 Z" fill="#7a7773"/>
<ellipse cx="314.3" cy="326" rx="6.3" ry="9.4" fill="#7a7773"/>
<ellipse cx="469" cy="317" rx="8.4" ry="5.3" fill="#524f4c"/>
<ellipse cx="442.8" cy="325.7" rx="9.4" ry="9.4" fill="#7a7773"/>
<ellipse cx="398" cy="300.6" rx="4.2" ry="5.2" fill="#7a7773"/>
<ellipse cx="265" cy="322" rx="5" ry="13" fill="#7a7773"/>
<ellipse cx="395.8" cy="327" rx="4.2" ry="6.2" fill="#7a7773"/>
<path d="M396.0,196.0 L410.0,195.0 L419.0,205.0 L414.0,214.0 L400.0,212.0 Z" fill="#7a7773"/>
<path d="M423.0,222.0 L432.0,220.0 L440.0,232.0 L438.0,243.0 L428.0,240.0 Z" fill="#524f4c"/>
<ellipse cx="551.5" cy="244" rx="10.5" ry="11.5" fill="#7a7773"/>
<ellipse cx="531.6" cy="253.6" rx="7.4" ry="6.3" fill="#7a7773"/>
<path d="M565.0,252.0 L580.0,250.0 L591.0,253.0 L586.0,263.0 L575.0,270.0 L567.0,264.0 Z" fill="#7a7773"/>
<ellipse cx="535.7" cy="272.3" rx="15.7" ry="6.3" fill="#524f4c"/>
<ellipse cx="568.2" cy="219.1" rx="8.4" ry="5.2" fill="#7a7773"/>
<ellipse cx="556.7" cy="204" rx="7.3" ry="3.6" fill="#7a7773"/>
<ellipse cx="568" cy="191.4" rx="6.2" ry="3.6" fill="#7a7773"/>
<ellipse cx="587.5" cy="228.5" rx="3.6" ry="6.3" fill="#7a7773"/>
<path d="M478.4,287.0 L490.9,289.1 L505.5,291.2 L516.0,287.0 L513.9,299.5 L505.5,312.1 L497.2,316.3 L482.5,316.3 L474.2,312.1 L470.0,303.7 Z" fill="#2189c2"/>
<path d="M478.4,290.0 L505.5,293.0 L512.0,296.0 L505.5,306.0 L490.0,310.0 L476.0,304.0 Z" fill="#524f4c"/>
<ellipse cx="503" cy="333" rx="16" ry="6" fill="#7a7773"/>
<ellipse cx="62.5" cy="339" rx="8.3" ry="7.3" fill="#524f4c"/>
<path d="M81.3,336.0 L98.1,331.8 L110.6,338.1 L123.1,340.1 L121.0,350.6 L108.5,352.7 L91.8,346.4 Z" fill="#524f4c"/>
<path d="M83.4,371.5 L98.1,365.2 L112.7,356.9 L121.0,359.0 L116.9,369.4 L104.3,375.7 L91.8,379.8 L81.3,377.8 Z" fill="#524f4c"/>
<ellipse cx="73" cy="381" rx="14.6" ry="7.3" fill="#524f4c"/>
<path d="M62.5,394.5 L79.3,392.4 L91.8,396.6 L93.9,407.0 L87.6,417.5 L75.1,423.7 L64.6,421.6 L61.5,409.1 Z" fill="#524f4c"/>
<path d="M150.3,382.0 L154.5,388.2 L148.2,407.0 L139.8,423.7 L133.6,436.3 L123.1,434.2 L129.4,419.5 L131.5,404.9 L137.8,394.5 L141.9,386.1 Z" fill="#524f4c"/>
<ellipse cx="105" cy="455" rx="13" ry="4" fill="#524f4c"/>
<path d="M171.2,327.6 L185.8,321.3 L200.4,319.3 L217.2,325.5 L238.0,329.7 L258.9,331.8 L270.0,333.9 L270.0,342.0 L250.0,341.0 L230.0,339.0 L210.0,337.0 L190.0,338.0 L175.0,337.0 Z" fill="#524f4c"/>
<path d="M179.5,346.0 L200.0,348.0 L220.0,350.0 L240.0,348.0 L259.0,346.0 L254.8,352.7 L250.6,361.0 L238.0,365.2 L227.6,365.2 L217.2,361.0 L208.8,356.9 L196.3,352.7 L183.7,350.0 Z" fill="#524f4c"/>
<ellipse cx="206.7" cy="303.6" rx="10.4" ry="7.3" fill="#7a7773"/>
<ellipse cx="230.7" cy="306.7" rx="7.3" ry="6.3" fill="#7a7773"/>
<path d="M240.0,315.0 L252.0,309.0 L267.0,310.0 L267.0,322.0 L255.0,329.0 L243.0,326.0 Z" fill="#7a7773"/>
<path d="M245.4,369.4 L254.8,365.2 L270.0,369.4 L272.0,432.1 L263.1,415.4 L256.9,398.6 L250.6,386.1 L246.4,377.8 Z" fill="#524f4c"/>
<path d="M264.2,387.8 L285.1,383.6 L306.0,382.5 L322.7,387.8 L335.2,391.9 L345.7,396.1 L343.6,402.4 L322.7,406.6 L320.6,412.8 L333.1,425.4 L316.4,435.8 L326.9,446.3 L316.4,454.6 L339.4,458.8 L356.1,463.0 L377.0,477.6 L283.0,477.6 L283.0,463.0 L287.2,446.3 L285.1,431.6 L272.5,425.4 L266.3,414.9 L262.1,400.3 Z" fill="#3e3e3e"/>
<path d="M404.2,362.7 L410.4,350.1 L423.0,341.8 L437.6,335.5 L439.7,323.0 L443.9,318.8 L450.1,323.0 L456.4,335.5 L458.5,343.9 L452.2,352.2 L443.9,362.7 L435.5,369.0 L423.0,371.0 L410.4,372.1 L402.1,371.0 Z" fill="#524f4c"/>
<ellipse cx="402" cy="423.7" rx="6.3" ry="3.8" fill="#7a7773"/>
<path d="M647.6,437.9 L653.9,425.4 L670.6,419.1 L687.3,418.0 L687.3,423.3 L679.0,446.3 L670.6,467.2 L662.2,465.1 L651.8,458.8 L658.0,450.4 L649.7,444.2 Z" fill="#3e3e3e"/>
<path d="M510.4,423.5 L527.7,419.8 L549.9,421.0 L552.3,427.2 L537.5,432.0 L535.0,437.0 L549.9,439.5 L547.4,447.0 L537.5,451.9 L542.5,459.3 L562.2,464.2 L557.3,474.0 L542.5,475.3 L537.5,469.0 L527.7,464.2 L517.8,459.3 L488.0,459.3 L473.3,456.8 L473.3,454.3 L493.0,453.0 L508.0,451.9 L512.8,447.0 L505.4,442.0 L510.4,434.6 L505.4,427.2 Z" fill="#3e3e3e"/>
<path d="M340.0,459.3 L354.8,461.7 L362.2,469.0 L377.0,476.5 L340.0,477.6 Z" fill="#3e3e3e"/>
<ellipse cx="422.7" cy="474" rx="11" ry="2.6" fill="#3e3e3e"/>
<ellipse cx="448.6" cy="474" rx="5" ry="1.5" fill="#3e3e3e"/>
<ellipse cx="482.5" cy="468.5" rx="5.5" ry="2" fill="#3e3e3e"/>
<ellipse cx="506.6" cy="467.2" rx="6" ry="2" fill="#3e3e3e"/>
<ellipse cx="586" cy="471" rx="14" ry="4.5" fill="#3e3e3e"/>
<path d="M486.7,331.3 L495.1,329.3 L507.6,335.5 L518.1,331.3 L524.3,339.7 L526.4,348.1 L518.1,352.2 L507.6,352.2 L499.3,354.3 L495.1,364.8 L488.8,362.7 L482.5,346.0 Z" fill="#7a7773"/>
<ellipse cx="519" cy="401.3" rx="13.6" ry="7.3" fill="#7a7773"/>
<path d="M633.0,396.1 L641.3,387.8 L647.6,383.6 L658.0,375.2 L670.6,383.6 L672.7,389.8 L662.2,394.0 L653.9,400.3 L645.5,404.5 L635.1,404.5 Z" fill="#7a7773"/>
<ellipse cx="606.8" cy="377.3" rx="7.3" ry="4.2" fill="#7a7773"/>
<ellipse cx="486.7" cy="447.3" rx="8.4" ry="5.2" fill="#7a7773"/>
<ellipse cx="560" cy="31" rx="8" ry="3" fill="#7a7773"/>
<ellipse cx="586" cy="40" rx="8" ry="3" fill="#7a7773"/>
<ellipse cx="583" cy="62" rx="6" ry="4" fill="#524f4c"/>
<ellipse cx="600" cy="73" rx="4" ry="5" fill="#524f4c"/>
<ellipse cx="533" cy="88" rx="8" ry="5" fill="#524f4c"/>
<path d="M522.0,110.0 L535.0,103.0 L546.0,104.0 L540.0,112.0 L528.0,116.0 Z" fill="#524f4c"/>
<ellipse cx="149" cy="39" rx="6" ry="4" fill="#ee5fc6"/>
<ellipse cx="194" cy="39.5" rx="4.5" ry="2.5" fill="#ee5fc6"/>
<ellipse cx="256" cy="29" rx="4.5" ry="2" fill="#ee5fc6"/>
<ellipse cx="212" cy="27" rx="2.5" ry="1.5" fill="#ee5fc6"/>
<ellipse cx="305" cy="38.5" rx="3.5" ry="2.5" fill="#ee5fc6"/>
<ellipse cx="477.8" cy="124" rx="5" ry="3" fill="#ee5fc6"/>
<ellipse cx="464" cy="120.8" rx="3" ry="2" fill="#ee5fc6"/>
<ellipse cx="506.7" cy="121.9" rx="3" ry="2" fill="#ee5fc6"/>
<ellipse cx="509.4" cy="113" rx="3" ry="2" fill="#ee5fc6"/>
<ellipse cx="625.1" cy="107.5" rx="5" ry="3" fill="#ee5fc6"/>
<ellipse cx="634.7" cy="113" rx="2.5" ry="2" fill="#ee5fc6"/>
<ellipse cx="627" cy="126.8" rx="3" ry="2" fill="#ee5fc6"/>
<ellipse cx="578.3" cy="146.9" rx="5" ry="3.5" fill="#ee5fc6"/>
<ellipse cx="561.8" cy="141.1" rx="3.5" ry="2.5" fill="#ee5fc6"/>
<ellipse cx="594.8" cy="151" rx="3.5" ry="2.2" fill="#ee5fc6"/>
<ellipse cx="621" cy="148.3" rx="3" ry="2" fill="#ee5fc6"/>
<ellipse cx="641.6" cy="137.8" rx="2" ry="2.5" fill="#ee5fc6"/>
<ellipse cx="451.6" cy="164.8" rx="4" ry="2.5" fill="#ee5fc6"/>
<ellipse cx="408.4" cy="170.9" rx="4" ry="2.5" fill="#ee5fc6"/>
<ellipse cx="450.2" cy="173.6" rx="2.5" ry="2" fill="#ee5fc6"/>
<ellipse cx="453" cy="181.3" rx="3.5" ry="2.2" fill="#ee5fc6"/>
<ellipse cx="461.2" cy="197" rx="2.5" ry="2" fill="#ee5fc6"/>
<ellipse cx="469.5" cy="209.4" rx="3.5" ry="2.2" fill="#ee5fc6"/>
<ellipse cx="463.4" cy="215.5" rx="2.5" ry="2" fill="#ee5fc6"/>
<ellipse cx="437.8" cy="214.4" rx="4" ry="2.5" fill="#ee5fc6"/>
<ellipse cx="453" cy="220.5" rx="2" ry="1.6" fill="#ee5fc6"/>
<ellipse cx="475" cy="227.3" rx="3" ry="2" fill="#ee5fc6"/>
<ellipse cx="469.5" cy="251.3" rx="5" ry="3.5" fill="#ee5fc6"/>
<ellipse cx="487.4" cy="272.8" rx="3.5" ry="2.2" fill="#ee5fc6"/>
<ellipse cx="499" cy="269.5" rx="3.5" ry="2.5" fill="#ee5fc6"/>
<ellipse cx="600.3" cy="197" rx="2.5" ry="2" fill="#ee5fc6"/>
<ellipse cx="523.2" cy="147.5" rx="2.5" ry="2" fill="#ee5fc6"/>
<ellipse cx="388.3" cy="115.8" rx="2" ry="2" fill="#ee5fc6"/>
<ellipse cx="407.5" cy="120.8" rx="3" ry="2" fill="#ee5fc6"/>
<ellipse cx="297" cy="169" rx="8" ry="5.5" fill="#ee5fc6"/>
<ellipse cx="294" cy="438.5" rx="4.7" ry="5.8" fill="#ee5fc6"/>
<ellipse cx="320.6" cy="384" rx="6.3" ry="4.2" fill="#ee5fc6"/>
<ellipse cx="427" cy="376" rx="6" ry="4" fill="#ee5fc6"/>
<path d="M570.0,442.0 L576.0,444.0 L578.0,455.0 L572.0,467.0 L566.0,465.0 L570.0,455.0 Z" fill="#ee5fc6"/>
<ellipse cx="245.4" cy="385" rx="3.2" ry="7.3" fill="#ee5fc6"/>
<path d="M588.0,50.0 L602.0,46.0 L600.0,54.0 L590.0,57.0 Z" fill="#ee5fc6"/>
<ellipse cx="299.7" cy="244.2" rx="6.3" ry="5.2" fill="#ee5fc6"/>
<ellipse cx="420" cy="325" rx="2.5" ry="2" fill="#ee5fc6"/>
<ellipse cx="500" cy="178" rx="3" ry="2" fill="#ee5fc6"/>
<ellipse cx="470" cy="150" rx="2" ry="2" fill="#ee5fc6"/>
</g>
<path d="M339.8,178.4 L345.5,174.6 L356.0,173.7 L368.3,169.0 L374.0,173.7 L376.9,184.0 L369.3,187.0 L357.9,190.8 L348.4,195.5 L340.8,190.8 L338.9,185.0 Z M319.0,220.0 L322.0,215.0 L329.0,213.5 L334.0,216.0 L335.0,222.0 L326.0,222.5 Z M450.4,410.0 L456.0,402.0 L468.0,401.0 L482.0,404.0 L495.0,410.0 L502.0,418.0 L495.0,423.5 L478.0,423.7 L462.0,421.0 L452.0,417.0 Z M371.3,29.0 L375.0,26.7 L379.7,28.5 L377.0,32.0 L373.0,32.0 Z" fill="#fff"/>
<path d="M6,424 L47.5,424 L43.2,457.9 L1.5,457.9 Q1.8,440 6,424 Z" fill="#45433f"/><path d="M1.5,457.9 L43.2,457.9 L47.5,481.8 L6,482.1 Q2,470 1.5,457.9 Z" fill="#222"/><path d="M47.5,424 Q51,447 50.3,460 Q49.8,472 47.5,481.8 L43.2,457.9 Z" fill="#111"/>
<g stroke="#222" stroke-width="1.3" fill="none">
<path d="M754.9,116.3 H939.6 V236.6 H754.9 M754.9,270.3 H939.6 V387.7 H754.9"/>
<path d="M754.9,116.3 V106.8"/>
<path d="M754.9,387.7 V397.2"/>
<path d="M801.1,116.3 V110.8"/>
<path d="M801.1,387.7 V393.2"/>
<path d="M847.2,116.3 V106.8"/>
<path d="M847.2,387.7 V397.2"/>
<path d="M893.4,116.3 V110.8"/>
<path d="M893.4,387.7 V393.2"/>
<path d="M939.6,116.3 V106.8"/>
<path d="M939.6,387.7 V397.2"/>
</g>
<path d="M754.9,106.8 V236.6 M754.9,270.3 V397" stroke="#555" stroke-width="1.6" fill="none"/>
<rect x="755.6999999999999" y="152.9" width="145.4" height="47.9" fill="#e1ab45"/>
<rect x="755.6999999999999" y="307.5" width="134.6" height="48.3" fill="#e1ab45"/>
<path d="M897,176.5 H904.2 M881.4,331.1 H898.8" stroke="#111" stroke-width="2"/>
<text x="738.6" y="52.3" font-size="28" textLength="218" lengthAdjust="spacingAndGlyphs">Carbon coverage</text>
<text x="754.9" y="94.4" font-size="24.2" text-anchor="middle" textLength="13.1" lengthAdjust="spacingAndGlyphs">0</text>
<text x="754.9" y="426.8" font-size="24.2" text-anchor="middle" textLength="13.1" lengthAdjust="spacingAndGlyphs">0</text>
<text x="847.2" y="94.4" font-size="24.2" text-anchor="middle" textLength="33.3" lengthAdjust="spacingAndGlyphs">0.5</text>
<text x="847.2" y="426.8" font-size="24.2" text-anchor="middle" textLength="33.3" lengthAdjust="spacingAndGlyphs">0.5</text>
<text x="939.6" y="94.4" font-size="24.2" text-anchor="middle" textLength="28.6" lengthAdjust="spacingAndGlyphs">1.0</text>
<text x="939.6" y="426.8" font-size="24.2" text-anchor="middle" textLength="28.6" lengthAdjust="spacingAndGlyphs">1.0</text>
<text x="829" y="185.4" font-size="26.8" textLength="54.3" lengthAdjust="spacingAndGlyphs">0.79</text>
<text x="815.3" y="339.8" font-size="26.8" textLength="54.1" lengthAdjust="spacingAndGlyphs">0.73</text>
<text x="750.9" y="472.2" font-size="28.8" textLength="193.9" lengthAdjust="spacingAndGlyphs">I/C weight ratio</text>
<g clip-path="url(#silC)">
<rect x="30" y="525" width="670" height="480" fill="#6a94e2"/>
<g filter="url(#blurC)">
<ellipse cx="181" cy="590" rx="26" ry="14" fill="#6466c0"/>
<ellipse cx="251" cy="562" rx="23" ry="20" fill="#6a70c4"/>
<ellipse cx="218" cy="685" rx="27" ry="40" fill="#6664bc"/>
<ellipse cx="310" cy="658" rx="30" ry="25" fill="#6a74c8"/>
<ellipse cx="150" cy="560" rx="20" ry="12" fill="#6a78c8"/>
<ellipse cx="520" cy="600" rx="30" ry="18" fill="#6c78cc"/>
<ellipse cx="530" cy="690" rx="40" ry="30" fill="#6a78cc"/>
<ellipse cx="75" cy="884" rx="20" ry="28" fill="#6868c0"/>
<ellipse cx="115" cy="915" rx="28" ry="35" fill="#6c7ccc"/>
<ellipse cx="95" cy="963" rx="32" ry="18" fill="#6c84d8"/>
<ellipse cx="300" cy="870" rx="50" ry="25" fill="#7080d0"/>
<ellipse cx="440" cy="822" rx="48" ry="25" fill="#6a70c4"/>
<ellipse cx="537" cy="806" rx="48" ry="25" fill="#6a74c8"/>
<ellipse cx="640" cy="880" rx="30" ry="30" fill="#6e86d8"/>
<ellipse cx="200" cy="960" rx="30" ry="20" fill="#6c80d0"/>
<ellipse cx="240" cy="560" rx="15" ry="10" fill="#6a6ac0"/>
<ellipse cx="400" cy="690" rx="30" ry="20" fill="#6a7ccc"/>
<ellipse cx="332" cy="558" rx="16" ry="10" fill="#88e0f8"/>
<ellipse cx="292" cy="573" rx="12" ry="17" fill="#a0e4e0"/>
<ellipse cx="212" cy="635" rx="30" ry="10" fill="#80d4f4"/>
<ellipse cx="264" cy="696" rx="18" ry="12" fill="#80d0f4"/>
<ellipse cx="160" cy="562" rx="30" ry="10" fill="#80c8f0"/>
<ellipse cx="230" cy="570" rx="20" ry="8" fill="#80d0f0"/>
<ellipse cx="417" cy="556" rx="17" ry="9" fill="#80d0f4"/>
<ellipse cx="468" cy="611" rx="17" ry="12" fill="#a0e8e0"/>
<ellipse cx="484" cy="670" rx="10" ry="9" fill="#88e0f8"/>
<ellipse cx="580" cy="570" rx="25" ry="25" fill="#80c0f0"/>
<ellipse cx="175" cy="847" rx="16" ry="16" fill="#88d8f0"/>
<ellipse cx="115" cy="760" rx="12" ry="10" fill="#80d0f0"/>
<ellipse cx="224" cy="798" rx="32" ry="16" fill="#80c8f0"/>
<ellipse cx="175" cy="884" rx="22" ry="27" fill="#80c8f4"/>
<ellipse cx="416" cy="944" rx="56" ry="32" fill="#90dcf0"/>
<ellipse cx="602" cy="887" rx="48" ry="24" fill="#80c0f0"/>
<ellipse cx="376" cy="898" rx="16" ry="20" fill="#b0e4d8"/>
<ellipse cx="255" cy="685" rx="20" ry="20" fill="#80d0f4"/>
<ellipse cx="350" cy="760" rx="25" ry="25" fill="#80d0f4"/>
<ellipse cx="390" cy="830" rx="18" ry="35" fill="#88d8f0"/>
<ellipse cx="60" cy="720" rx="15" ry="20" fill="#80c8f0"/>
<ellipse cx="570" cy="930" rx="30" ry="20" fill="#80c8f0"/>
<ellipse cx="660" cy="940" rx="15" ry="25" fill="#84d0f4"/>
<ellipse cx="480" cy="920" rx="20" ry="20" fill="#80d0f0"/>
<ellipse cx="455" cy="580" rx="18" ry="13" fill="#e0f4a0"/>
<ellipse cx="428" cy="596" rx="17" ry="9" fill="#d8f0a8"/>
<ellipse cx="405" cy="599" rx="12" ry="8" fill="#d8f0a0"/>
<ellipse cx="291" cy="724" rx="24" ry="9" fill="#e8f090"/>
<ellipse cx="268" cy="757" rx="20" ry="5" fill="#e8f2a0"/>
<ellipse cx="280" cy="814" rx="24" ry="26" fill="#d0f0b0"/>
<ellipse cx="290" cy="830" rx="15" ry="10" fill="#eef39a"/>
<ellipse cx="379" cy="798" rx="19" ry="16" fill="#d8f0b0"/>
<ellipse cx="452" cy="906" rx="8" ry="12" fill="#e8f2a0"/>
<ellipse cx="376" cy="898" rx="10" ry="12" fill="#d8f0b8"/>
<ellipse cx="405" cy="958" rx="14" ry="8" fill="#c8ecc8"/>
</g>
<g filter="url(#blurY)">
<ellipse cx="386" cy="981" rx="25" ry="12" fill="#f0f590"/>
<ellipse cx="449" cy="978" rx="24" ry="12" fill="#f0f590"/>
<ellipse cx="635" cy="981" rx="24" ry="10" fill="#f3f68c"/>
<ellipse cx="455" cy="578" rx="16" ry="11" fill="#e4f5a4"/>
<ellipse cx="290" cy="724" rx="18" ry="6" fill="#e8f294"/>
<ellipse cx="289" cy="831" rx="12" ry="8" fill="#eef39a"/>
</g>
<g transform="translate(-1,517)">
<g filter="url(#blurH)" opacity="0.55">
<path d="M583.0,181.0 L600.0,201.0 L625.0,199.0 L645.0,183.0 L652.7,175.0 L651.0,181.0 L640.0,193.0 L628.0,199.0 L614.0,202.0 L598.0,202.0 L585.0,193.0 Z" fill="#5858b0" stroke="#5858b0" stroke-width="9" stroke-linejoin="round"/>
<path d="M587.0,195.0 L595.4,201.3 L603.7,205.5 L616.3,209.7 L620.4,207.6 L614.2,224.3 L613.1,239.0 L603.7,234.8 L595.4,230.6 L591.2,220.1 L587.0,211.8 Z" fill="#5858b0" stroke="#5858b0" stroke-width="9" stroke-linejoin="round"/>
<path d="M255.0,33.0 L265.0,32.0 L282.0,30.0 L284.0,33.0 L275.0,38.0 L263.6,40.5 L256.0,38.0 Z" fill="#5858b0" stroke="#5858b0" stroke-width="9" stroke-linejoin="round"/>
<path d="M395.4,37.2 L405.8,33.0 L414.2,39.3 L407.9,51.8 L399.5,54.9 L389.1,49.7 L387.0,41.3 Z" fill="#5858b0" stroke="#5858b0" stroke-width="9" stroke-linejoin="round"/>
<path d="M135.4,92.0 L138.8,85.2 L147.4,90.3 L159.3,100.6 L171.3,105.7 L176.4,110.9 L174.7,119.4 L167.9,126.2 L154.2,126.2 L143.9,121.1 L137.1,112.6 L133.7,102.3 Z" fill="#5858b0" stroke="#5858b0" stroke-width="9" stroke-linejoin="round"/>
<ellipse cx="178" cy="86" rx="11" ry="8" fill="#5858b0"/>
<ellipse cx="187.5" cy="104" rx="10" ry="9" fill="#5858b0"/>
<ellipse cx="198.6" cy="94.6" rx="11" ry="6.6" fill="#5858b0"/>
<ellipse cx="244.7" cy="93.7" rx="12.5" ry="7.5" fill="#5858b0"/>
<path d="M255.0,104.0 L265.0,102.0 L270.0,112.0 L268.0,128.0 L262.0,136.0 L255.0,130.0 L253.0,116.0 Z" fill="#5858b0" stroke="#5858b0" stroke-width="9" stroke-linejoin="round"/>
<ellipse cx="277" cy="41" rx="8" ry="7.5" fill="#5858b0"/>
<path d="M282.5,156.3 L299.3,147.9 L311.8,143.7 L316.0,152.1 L311.8,164.6 L301.3,173.0 L286.7,175.0 L278.4,166.7 Z" fill="#5858b0" stroke="#5858b0" stroke-width="9" stroke-linejoin="round"/>
<ellipse cx="360" cy="99.4" rx="12" ry="9" fill="#5858b0"/>
<path d="M286.7,108.2 L307.6,106.1 L315.0,112.4 L318.0,127.0 L311.8,131.2 L301.3,127.0 L290.9,122.8 L282.5,118.6 Z" fill="#5858b0" stroke="#5858b0" stroke-width="9" stroke-linejoin="round"/>
<ellipse cx="322" cy="170" rx="17" ry="11" fill="#5858b0"/>
<path d="M306.5,165.0 L325.0,157.0 L350.0,160.0 L345.0,172.0 L320.0,178.7 L308.0,174.0 Z" fill="#5858b0" stroke="#5858b0" stroke-width="9" stroke-linejoin="round"/>
<path d="M347.0,198.0 L360.0,194.0 L370.0,200.0 L372.0,230.0 L365.0,247.0 L352.0,245.0 L349.0,225.0 Z" fill="#5858b0" stroke="#5858b0" stroke-width="9" stroke-linejoin="round"/>
<path d="M84.5,184.0 L92.0,182.0 L99.0,200.0 L99.0,209.0 L90.0,206.0 L85.0,196.0 Z" fill="#5858b0" stroke="#5858b0" stroke-width="9" stroke-linejoin="round"/>
<path d="M77.2,282.5 L91.8,278.3 L112.7,282.5 L129.4,288.8 L144.0,293.0 L146.1,297.2 L129.4,299.2 L102.2,299.2 L79.3,295.1 Z" fill="#5858b0" stroke="#5858b0" stroke-width="9" stroke-linejoin="round"/>
<path d="M139.8,276.3 L154.5,267.9 L167.0,263.7 L179.5,259.5 L185.8,272.1 L183.7,288.8 L175.4,297.2 L162.8,297.2 L148.2,293.0 Z" fill="#5858b0" stroke="#5858b0" stroke-width="9" stroke-linejoin="round"/>
<path d="M173.3,190.6 L183.7,184.3 L200.4,180.1 L217.2,179.1 L233.9,180.1 L246.4,188.5 L242.2,199.0 L229.7,203.1 L208.8,205.2 L192.1,211.5 L179.5,209.4 L172.2,201.0 Z" fill="#5858b0" stroke="#5858b0" stroke-width="9" stroke-linejoin="round"/>
<path d="M183.7,142.5 L196.3,136.3 L202.5,142.5 L200.4,157.2 L194.2,167.6 L185.8,165.5 L181.6,155.1 Z" fill="#5858b0" stroke="#5858b0" stroke-width="9" stroke-linejoin="round"/>
<ellipse cx="242" cy="163" rx="10" ry="12" fill="#5858b0"/>
<path d="M187.9,247.0 L196.3,234.5 L208.8,230.3 L217.2,232.4 L231.8,242.8 L248.5,249.1 L246.4,257.5 L233.9,259.5 L213.0,258.5 L196.3,261.6 L187.9,259.5 Z" fill="#5858b0" stroke="#5858b0" stroke-width="9" stroke-linejoin="round"/>
<ellipse cx="236" cy="284.6" rx="18.6" ry="8.2" fill="#5858b0"/>
<path d="M329.0,259.8 L339.4,253.6 L351.9,251.5 L356.1,255.7 L351.9,261.9 L341.5,268.2 L331.0,268.2 L320.6,270.3 L312.2,274.5 L308.1,282.8 L310.1,291.2 L316.4,297.5 L316.4,303.7 L310.1,303.7 L303.9,295.4 L302.8,282.8 L306.0,272.4 L314.3,266.1 L324.8,264.0 Z" fill="#5858b0" stroke="#5858b0" stroke-width="9" stroke-linejoin="round"/>
<path d="M358.2,205.5 L364.5,209.7 L364.5,218.1 L360.3,224.3 L358.2,236.9 L356.1,245.2 L351.9,243.1 L349.8,232.7 L351.9,222.2 L348.8,218.1 L351.9,211.8 Z" fill="#5858b0" stroke="#5858b0" stroke-width="9" stroke-linejoin="round"/>
<ellipse cx="402.6" cy="245.3" rx="9.7" ry="12.4" fill="#5858b0"/>
<ellipse cx="314.3" cy="326" rx="10.3" ry="13.4" fill="#5858b0"/>
<ellipse cx="469" cy="317" rx="12.4" ry="9.3" fill="#5858b0"/>
<ellipse cx="442.8" cy="325.7" rx="13.4" ry="13.4" fill="#5858b0"/>
<ellipse cx="398" cy="300.6" rx="8.2" ry="9.2" fill="#5858b0"/>
<ellipse cx="265" cy="322" rx="9" ry="17" fill="#5858b0"/>
<ellipse cx="395.8" cy="327" rx="8.2" ry="10.2" fill="#5858b0"/>
<path d="M396.0,196.0 L410.0,195.0 L419.0,205.0 L414.0,214.0 L400.0,212.0 Z" fill="#5858b0" stroke="#5858b0" stroke-width="9" stroke-linejoin="round"/>
<path d="M423.0,222.0 L432.0,220.0 L440.0,232.0 L438.0,243.0 L428.0,240.0 Z" fill="#5858b0" stroke="#5858b0" stroke-width="9" stroke-linejoin="round"/>
<ellipse cx="551.5" cy="244" rx="14.5" ry="15.5" fill="#5858b0"/>
<ellipse cx="531.6" cy="253.6" rx="11.4" ry="10.3" fill="#5858b0"/>
<path d="M565.0,252.0 L580.0,250.0 L591.0,253.0 L586.0,263.0 L575.0,270.0 L567.0,264.0 Z" fill="#5858b0" stroke="#5858b0" stroke-width="9" stroke-linejoin="round"/>
<ellipse cx="535.7" cy="272.3" rx="19.7" ry="10.3" fill="#5858b0"/>
<ellipse cx="568.2" cy="219.1" rx="12.4" ry="9.2" fill="#5858b0"/>
<ellipse cx="556.7" cy="204" rx="11.3" ry="7.6" fill="#5858b0"/>
<ellipse cx="568" cy="191.4" rx="10.2" ry="7.6" fill="#5858b0"/>
<ellipse cx="587.5" cy="228.5" rx="7.6" ry="10.3" fill="#5858b0"/>
<path d="M478.4,290.0 L505.5,293.0 L512.0,296.0 L505.5,306.0 L490.0,310.0 L476.0,304.0 Z" fill="#5858b0" stroke="#5858b0" stroke-width="9" stroke-linejoin="round"/>
<ellipse cx="503" cy="333" rx="20" ry="10" fill="#5858b0"/>
<ellipse cx="62.5" cy="339" rx="12.3" ry="11.3" fill="#5858b0"/>
<path d="M81.3,336.0 L98.1,331.8 L110.6,338.1 L123.1,340.1 L121.0,350.6 L108.5,352.7 L91.8,346.4 Z" fill="#5858b0" stroke="#5858b0" stroke-width="9" stroke-linejoin="round"/>
<path d="M83.4,371.5 L98.1,365.2 L112.7,356.9 L121.0,359.0 L116.9,369.4 L104.3,375.7 L91.8,379.8 L81.3,377.8 Z" fill="#5858b0" stroke="#5858b0" stroke-width="9" stroke-linejoin="round"/>
<ellipse cx="73" cy="381" rx="18.6" ry="11.3" fill="#5858b0"/>
<path d="M62.5,394.5 L79.3,392.4 L91.8,396.6 L93.9,407.0 L87.6,417.5 L75.1,423.7 L64.6,421.6 L61.5,409.1 Z" fill="#5858b0" stroke="#5858b0" stroke-width="9" stroke-linejoin="round"/>
<path d="M150.3,382.0 L154.5,388.2 L148.2,407.0 L139.8,423.7 L133.6,436.3 L123.1,434.2 L129.4,419.5 L131.5,404.9 L137.8,394.5 L141.9,386.1 Z" fill="#5858b0" stroke="#5858b0" stroke-width="9" stroke-linejoin="round"/>
<ellipse cx="105" cy="455" rx="17" ry="8" fill="#5858b0"/>
<path d="M171.2,327.6 L185.8,321.3 L200.4,319.3 L217.2,325.5 L238.0,329.7 L258.9,331.8 L270.0,333.9 L270.0,342.0 L250.0,341.0 L230.0,339.0 L210.0,337.0 L190.0,338.0 L175.0,337.0 Z" fill="#5858b0" stroke="#5858b0" stroke-width="9" stroke-linejoin="round"/>
<path d="M179.5,346.0 L200.0,348.0 L220.0,350.0 L240.0,348.0 L259.0,346.0 L254.8,352.7 L250.6,361.0 L238.0,365.2 L227.6,365.2 L217.2,361.0 L208.8,356.9 L196.3,352.7 L183.7,350.0 Z" fill="#5858b0" stroke="#5858b0" stroke-width="9" stroke-linejoin="round"/>
<ellipse cx="206.7" cy="303.6" rx="14.4" ry="11.3" fill="#5858b0"/>
<ellipse cx="230.7" cy="306.7" rx="11.3" ry="10.3" fill="#5858b0"/>
<path d="M240.0,315.0 L252.0,309.0 L267.0,310.0 L267.0,322.0 L255.0,329.0 L243.0,326.0 Z" fill="#5858b0" stroke="#5858b0" stroke-width="9" stroke-linejoin="round"/>
<path d="M245.4,369.4 L254.8,365.2 L270.0,369.4 L272.0,432.1 L263.1,415.4 L256.9,398.6 L250.6,386.1 L246.4,377.8 Z" fill="#5858b0" stroke="#5858b0" stroke-width="9" stroke-linejoin="round"/>
<path d="M264.2,387.8 L285.1,383.6 L306.0,382.5 L322.7,387.8 L335.2,391.9 L345.7,396.1 L343.6,402.4 L322.7,406.6 L320.6,412.8 L333.1,425.4 L316.4,435.8 L326.9,446.3 L316.4,454.6 L339.4,458.8 L356.1,463.0 L377.0,477.6 L283.0,477.6 L283.0,463.0 L287.2,446.3 L285.1,431.6 L272.5,425.4 L266.3,414.9 L262.1,400.3 Z" fill="#5858b0" stroke="#5858b0" stroke-width="9" stroke-linejoin="round"/>
<path d="M404.2,362.7 L410.4,350.1 L423.0,341.8 L437.6,335.5 L439.7,323.0 L443.9,318.8 L450.1,323.0 L456.4,335.5 L458.5,343.9 L452.2,352.2 L443.9,362.7 L435.5,369.0 L423.0,371.0 L410.4,372.1 L402.1,371.0 Z" fill="#5858b0" stroke="#5858b0" stroke-width="9" stroke-linejoin="round"/>
<ellipse cx="402" cy="423.7" rx="10.3" ry="7.8" fill="#5858b0"/>
<path d="M647.6,437.9 L653.9,425.4 L670.6,419.1 L687.3,418.0 L687.3,423.3 L679.0,446.3 L670.6,467.2 L662.2,465.1 L651.8,458.8 L658.0,450.4 L649.7,444.2 Z" fill="#5858b0" stroke="#5858b0" stroke-width="9" stroke-linejoin="round"/>
<path d="M510.4,423.5 L527.7,419.8 L549.9,421.0 L552.3,427.2 L537.5,432.0 L535.0,437.0 L549.9,439.5 L547.4,447.0 L537.5,451.9 L542.5,459.3 L562.2,464.2 L557.3,474.0 L542.5,475.3 L537.5,469.0 L527.7,464.2 L517.8,459.3 L488.0,459.3 L473.3,456.8 L473.3,454.3 L493.0,453.0 L508.0,451.9 L512.8,447.0 L505.4,442.0 L510.4,434.6 L505.4,427.2 Z" fill="#5858b0" stroke="#5858b0" stroke-width="9" stroke-linejoin="round"/>
<path d="M340.0,459.3 L354.8,461.7 L362.2,469.0 L377.0,476.5 L340.0,477.6 Z" fill="#5858b0" stroke="#5858b0" stroke-width="9" stroke-linejoin="round"/>
<ellipse cx="422.7" cy="474" rx="15" ry="6.6" fill="#5858b0"/>
<ellipse cx="448.6" cy="474" rx="9" ry="5.5" fill="#5858b0"/>
<ellipse cx="482.5" cy="468.5" rx="9.5" ry="6" fill="#5858b0"/>
<ellipse cx="506.6" cy="467.2" rx="10" ry="6" fill="#5858b0"/>
<ellipse cx="586" cy="471" rx="18" ry="8.5" fill="#5858b0"/>
<path d="M486.7,331.3 L495.1,329.3 L507.6,335.5 L518.1,331.3 L524.3,339.7 L526.4,348.1 L518.1,352.2 L507.6,352.2 L499.3,354.3 L495.1,364.8 L488.8,362.7 L482.5,346.0 Z" fill="#5858b0" stroke="#5858b0" stroke-width="9" stroke-linejoin="round"/>
<ellipse cx="519" cy="401.3" rx="17.6" ry="11.3" fill="#5858b0"/>
<path d="M633.0,396.1 L641.3,387.8 L647.6,383.6 L658.0,375.2 L670.6,383.6 L672.7,389.8 L662.2,394.0 L653.9,400.3 L645.5,404.5 L635.1,404.5 Z" fill="#5858b0" stroke="#5858b0" stroke-width="9" stroke-linejoin="round"/>
<ellipse cx="606.8" cy="377.3" rx="11.3" ry="8.2" fill="#5858b0"/>
<ellipse cx="486.7" cy="447.3" rx="12.4" ry="9.2" fill="#5858b0"/>
<ellipse cx="560" cy="31" rx="12" ry="7" fill="#5858b0"/>
<ellipse cx="586" cy="40" rx="12" ry="7" fill="#5858b0"/>
<ellipse cx="583" cy="62" rx="10" ry="8" fill="#5858b0"/>
<ellipse cx="600" cy="73" rx="8" ry="9" fill="#5858b0"/>
<ellipse cx="533" cy="88" rx="12" ry="9" fill="#5858b0"/>
<path d="M522.0,110.0 L535.0,103.0 L546.0,104.0 L540.0,112.0 L528.0,116.0 Z" fill="#5858b0" stroke="#5858b0" stroke-width="9" stroke-linejoin="round"/>
</g>
<path d="M300.0,38.0 L330.0,30.0 L380.0,28.0 L405.0,30.0 L410.0,45.0 L430.0,45.0 L455.0,50.0 L472.0,48.0 L470.0,65.0 L475.0,80.0 L470.0,105.0 L445.0,108.0 L420.0,100.0 L395.0,102.0 L380.0,95.0 L360.0,88.0 L330.0,86.0 L310.0,80.0 L298.0,60.0 Z" fill="none"/>
<path d="M70.0,222.0 L100.0,215.0 L130.0,216.0 L158.0,230.0 L160.0,262.0 L140.0,268.0 L110.0,265.0 L80.0,270.0 L65.0,260.0 Z" fill="none"/>
<path d="M345.0,392.0 L380.0,390.0 L397.0,398.0 L420.0,400.0 L458.0,402.0 L458.0,447.0 L400.0,447.0 L360.0,440.0 L350.0,420.0 Z" fill="none"/>
<path d="M560.0,330.0 L600.0,335.0 L650.0,340.0 L660.0,360.0 L640.0,380.0 L600.0,385.0 L570.0,370.0 Z" fill="none"/>
<path d="M480.0,108.0 L560.0,110.0 L600.0,100.0 L630.0,94.0 L630.0,100.0 L600.0,108.0 L560.0,116.0 L520.0,116.0 L490.0,112.0 Z" fill="none"/>
<path d="M320.0,407.0 L340.0,404.5 L365.0,406.6 L377.0,404.5 L362.0,425.0 L356.0,442.0 L358.0,452.5 L385.0,446.3 L406.0,446.3 L448.0,444.2 L480.0,446.3 L480.0,477.6 L320.0,477.6 Z" fill="none"/>
<path d="M470.0,450.4 L511.8,452.5 L553.6,450.4 L595.4,454.6 L616.3,456.7 L647.6,450.4 L651.8,458.8 L660.1,474.5 L660.0,477.6 L470.0,477.6 Z" fill="none"/>
<path d="M544.0,20.8 L611.6,21.7 L610.7,29.8 L607.1,46.1 L603.5,64.1 L599.9,82.2 L587.3,85.8 L572.9,87.6 L563.8,85.8 L553.0,78.6 L553.0,64.1 L549.4,37.1 L544.0,26.2 Z" fill="#6a8ce0"/>
<path d="M490.0,80.0 L510.0,78.0 L530.0,80.0 L549.0,82.0 L552.0,90.0 L556.0,100.0 L545.0,106.0 L530.0,108.0 L512.0,105.0 L500.0,97.0 Z" fill="#6a8ce0"/>
<path d="M448.9,108.9 L462.6,107.5 L490.0,109.0 L506.7,111.7 L526.0,117.2 L539.7,120.0 L550.8,118.6 L572.8,115.8 L589.3,114.4 L608.6,110.3 L616.8,102.0 L622.4,95.1 L630.6,93.2 L638.9,118.6 L645.8,148.9 L652.7,175.0 L651.3,179.1 L638.9,192.9 L627.9,198.4 L614.1,201.2 L597.6,201.2 L583.8,190.2 L572.8,179.1 L561.8,168.1 L550.8,157.1 L542.5,146.1 L528.7,142.0 L512.2,139.2 L503.9,142.0 L495.7,146.1 L490.2,154.4 L488.8,168.1 L490.2,181.9 L495.7,195.7 L501.2,212.2 L506.7,234.2 L501.2,245.2 L498.4,256.3 L503.9,267.3 L498.4,272.8 L487.4,274.2 L476.4,267.3 L468.1,256.3 L459.9,248.0 L451.6,234.2 L440.6,223.2 L429.6,212.2 L418.6,201.2 L404.8,190.2 L396.5,179.1 L396.5,170.9 L407.5,154.4 L418.6,144.7 L435.1,140.6 L440.6,129.6 L446.1,115.8 Z" fill="#7a7773"/>
<path d="M470.9,150.0 L480.0,143.0 L495.0,142.0 L501.0,150.0 L497.0,160.0 L486.0,168.0 L474.0,163.0 Z" fill="#78b8f0"/>
<path d="M418.6,140.0 L435.0,135.0 L454.0,138.0 L452.0,147.0 L438.0,149.0 L422.0,148.0 Z" fill="#78b8f0"/>
<path d="M600.3,163.0 L608.0,155.0 L625.0,154.4 L640.0,158.0 L638.0,168.0 L622.0,172.3 L605.0,170.0 Z" fill="#78b8f0"/>
<path d="M602.0,134.0 L609.0,130.0 L619.0,130.0 L621.0,136.0 L612.0,139.2 L604.0,138.0 Z" fill="#78b8f0"/>
<path d="M534.0,121.0 L545.0,119.5 L551.0,125.0 L548.0,131.0 L538.0,130.0 Z" fill="#78b8f0"/>
<path d="M489.0,109.0 L500.0,110.0 L512.0,113.0 L515.0,118.0 L505.0,121.0 L492.0,118.0 Z" fill="#78b8f0"/>
<path d="M583.0,181.0 L600.0,201.0 L625.0,199.0 L645.0,183.0 L652.7,175.0 L651.0,181.0 L640.0,193.0 L628.0,199.0 L614.0,202.0 L598.0,202.0 L585.0,193.0 Z" fill="#404040"/>
<path d="M587.0,195.0 L595.4,201.3 L603.7,205.5 L616.3,209.7 L620.4,207.6 L614.2,224.3 L613.1,239.0 L603.7,234.8 L595.4,230.6 L591.2,220.1 L587.0,211.8 Z" fill="#404040"/>
<path d="M185.0,22.8 L193.5,19.4 L208.9,17.7 L210.6,23.7 L208.9,30.5 L213.2,35.6 L210.6,41.6 L202.0,39.9 L191.8,40.8 L183.2,39.1 L179.8,33.9 L181.5,27.1 Z" fill="#7a7773"/>
<path d="M224.3,16.8 L289.2,16.0 L287.5,23.7 L282.4,32.2 L273.8,37.4 L263.6,39.9 L255.0,37.4 L249.9,28.8 L239.7,25.4 L226.0,23.7 Z" fill="#7a7773"/>
<path d="M255.0,33.0 L265.0,32.0 L282.0,30.0 L284.0,33.0 L275.0,38.0 L263.6,40.5 L256.0,38.0 Z" fill="#404040"/>
<path d="M315.0,17.3 L370.3,18.4 L366.1,22.5 L353.6,25.7 L336.9,23.6 L324.3,25.7 L317.0,22.5 Z" fill="#7a7773"/>
<path d="M410.0,19.4 L458.0,18.4 L472.7,22.5 L475.8,33.0 L470.6,41.3 L462.2,46.6 L453.9,47.6 L441.3,43.4 L428.8,39.3 L416.3,35.1 L410.0,28.8 Z" fill="#7a7773"/>
<path d="M395.4,37.2 L405.8,33.0 L414.2,39.3 L407.9,51.8 L399.5,54.9 L389.1,49.7 L387.0,41.3 Z" fill="#404040"/>
<path d="M328.5,64.3 L336.9,58.1 L343.1,51.8 L349.4,46.6 L364.0,44.5 L374.5,46.6 L380.7,51.8 L382.8,58.1 L376.6,62.2 L374.5,70.6 L368.2,76.9 L357.8,81.0 L343.1,83.1 L332.7,79.0 L327.5,72.7 Z" fill="#7a7773"/>
<path d="M276.3,93.6 L284.6,89.4 L297.2,89.0 L304.5,93.6 L303.4,101.9 L295.1,105.1 L282.5,104.0 L277.3,99.8 Z" fill="#7a7773"/>
<path d="M135.4,92.0 L138.8,85.2 L147.4,90.3 L159.3,100.6 L171.3,105.7 L176.4,110.9 L174.7,119.4 L167.9,126.2 L154.2,126.2 L143.9,121.1 L137.1,112.6 L133.7,102.3 Z" fill="#404040"/>
<ellipse cx="178" cy="86" rx="7" ry="4" fill="#4a4a4a"/>
<ellipse cx="187.5" cy="104" rx="6" ry="5" fill="#4a4a4a"/>
<ellipse cx="198.6" cy="94.6" rx="7" ry="2.6" fill="#4a4a4a"/>
<ellipse cx="244.7" cy="93.7" rx="8.5" ry="3.5" fill="#404040"/>
<path d="M255.0,104.0 L265.0,102.0 L270.0,112.0 L268.0,128.0 L262.0,136.0 L255.0,130.0 L253.0,116.0 Z" fill="#404040"/>
<ellipse cx="277" cy="41" rx="4" ry="3.5" fill="#404040"/>
<path d="M383.9,106.1 L395.4,104.0 L399.5,114.5 L412.1,122.8 L418.3,129.1 L412.1,135.4 L399.5,137.5 L391.2,131.2 L387.0,120.7 L382.8,112.4 Z" fill="#7a7773"/>
<path d="M282.5,156.3 L299.3,147.9 L311.8,143.7 L316.0,152.1 L311.8,164.6 L301.3,173.0 L286.7,175.0 L278.4,166.7 Z" fill="#404040"/>
<ellipse cx="360" cy="99.4" rx="8" ry="5" fill="#404040"/>
<path d="M286.7,108.2 L307.6,106.1 L315.0,112.4 L318.0,127.0 L311.8,131.2 L301.3,127.0 L290.9,122.8 L282.5,118.6 Z" fill="#404040"/>
<ellipse cx="322" cy="170" rx="13" ry="7" fill="#404040"/>
<path d="M306.5,165.0 L325.0,157.0 L350.0,160.0 L345.0,172.0 L320.0,178.7 L308.0,174.0 Z" fill="#404040"/>
<path d="M347.0,198.0 L360.0,194.0 L370.0,200.0 L372.0,230.0 L365.0,247.0 L352.0,245.0 L349.0,225.0 Z" fill="#404040"/>
<path d="M87.6,228.2 L93.9,221.9 L106.4,217.8 L114.8,218.8 L121.0,226.1 L120.0,234.5 L124.2,240.7 L119.0,244.9 L110.6,248.0 L100.1,246.0 L91.8,240.7 L86.6,234.5 Z" fill="#7a7773"/>
<path d="M84.5,184.0 L92.0,182.0 L99.0,200.0 L99.0,209.0 L90.0,206.0 L85.0,196.0 Z" fill="#404040"/>
<path d="M77.2,282.5 L91.8,278.3 L112.7,282.5 L129.4,288.8 L144.0,293.0 L146.1,297.2 L129.4,299.2 L102.2,299.2 L79.3,295.1 Z" fill="#404040"/>
<path d="M56.3,277.0 L75.0,276.0 L88.0,285.0 L89.7,298.4 L87.6,308.8 L75.1,317.2 L64.6,323.4 L58.4,331.8 L54.2,331.8 L55.2,300.0 Z" fill="#7a7773"/>
<path d="M139.8,276.3 L154.5,267.9 L167.0,263.7 L179.5,259.5 L185.8,272.1 L183.7,288.8 L175.4,297.2 L162.8,297.2 L148.2,293.0 Z" fill="#404040"/>
<path d="M173.3,190.6 L183.7,184.3 L200.4,180.1 L217.2,179.1 L233.9,180.1 L246.4,188.5 L242.2,199.0 L229.7,203.1 L208.8,205.2 L192.1,211.5 L179.5,209.4 L172.2,201.0 Z" fill="#404040"/>
<path d="M183.7,142.5 L196.3,136.3 L202.5,142.5 L200.4,157.2 L194.2,167.6 L185.8,165.5 L181.6,155.1 Z" fill="#4a4a4a"/>
<ellipse cx="242" cy="163" rx="6" ry="8" fill="#4a4a4a"/>
<path d="M187.9,247.0 L196.3,234.5 L208.8,230.3 L217.2,232.4 L231.8,242.8 L248.5,249.1 L246.4,257.5 L233.9,259.5 L213.0,258.5 L196.3,261.6 L187.9,259.5 Z" fill="#404040"/>
<ellipse cx="236" cy="284.6" rx="14.6" ry="4.2" fill="#404040"/>
<path d="M329.0,259.8 L339.4,253.6 L351.9,251.5 L356.1,255.7 L351.9,261.9 L341.5,268.2 L331.0,268.2 L320.6,270.3 L312.2,274.5 L308.1,282.8 L310.1,291.2 L316.4,297.5 L316.4,303.7 L310.1,303.7 L303.9,295.4 L302.8,282.8 L306.0,272.4 L314.3,266.1 L324.8,264.0 Z" fill="#4a4a4a"/>
<path d="M358.2,205.5 L364.5,209.7 L364.5,218.1 L360.3,224.3 L358.2,236.9 L356.1,245.2 L351.9,243.1 L349.8,232.7 L351.9,222.2 L348.8,218.1 L351.9,211.8 Z" fill="#4a4a4a"/>
<ellipse cx="402.6" cy="245.3" rx="5.7" ry="8.4" fill="#404040"/>
<path d="M410.4,266.1 L420.9,263.0 L427.2,270.3 L433.4,282.8 L443.9,287.0 L441.8,293.3 L431.3,293.3 L425.1,297.5 L414.6,295.4 L410.4,289.1 L418.8,284.9 L423.0,278.7 L414.6,272.4 Z" fill="#7a7773"/>
<ellipse cx="314.3" cy="326" rx="6.3" ry="9.4" fill="#4a4a4a"/>
<ellipse cx="469" cy="317" rx="8.4" ry="5.3" fill="#404040"/>
<ellipse cx="442.8" cy="325.7" rx="9.4" ry="9.4" fill="#4a4a4a"/>
<ellipse cx="398" cy="300.6" rx="4.2" ry="5.2" fill="#4a4a4a"/>
<ellipse cx="265" cy="322" rx="5" ry="13" fill="#4a4a4a"/>
<ellipse cx="395.8" cy="327" rx="4.2" ry="6.2" fill="#4a4a4a"/>
<path d="M396.0,196.0 L410.0,195.0 L419.0,205.0 L414.0,214.0 L400.0,212.0 Z" fill="#4a4a4a"/>
<path d="M423.0,222.0 L432.0,220.0 L440.0,232.0 L438.0,243.0 L428.0,240.0 Z" fill="#404040"/>
<ellipse cx="551.5" cy="244" rx="10.5" ry="11.5" fill="#4a4a4a"/>
<ellipse cx="531.6" cy="253.6" rx="7.4" ry="6.3" fill="#4a4a4a"/>
<path d="M565.0,252.0 L580.0,250.0 L591.0,253.0 L586.0,263.0 L575.0,270.0 L567.0,264.0 Z" fill="#4a4a4a"/>
<ellipse cx="535.7" cy="272.3" rx="15.7" ry="6.3" fill="#404040"/>
<ellipse cx="568.2" cy="219.1" rx="8.4" ry="5.2" fill="#4a4a4a"/>
<ellipse cx="556.7" cy="204" rx="7.3" ry="3.6" fill="#4a4a4a"/>
<ellipse cx="568" cy="191.4" rx="6.2" ry="3.6" fill="#4a4a4a"/>
<ellipse cx="587.5" cy="228.5" rx="3.6" ry="6.3" fill="#4a4a4a"/>
<path d="M478.4,287.0 L490.9,289.1 L505.5,291.2 L516.0,287.0 L513.9,299.5 L505.5,312.1 L497.2,316.3 L482.5,316.3 L474.2,312.1 L470.0,303.7 Z" fill="#6a8ce0"/>
<path d="M478.4,290.0 L505.5,293.0 L512.0,296.0 L505.5,306.0 L490.0,310.0 L476.0,304.0 Z" fill="#404040"/>
<ellipse cx="503" cy="333" rx="16" ry="6" fill="#4a4a4a"/>
<ellipse cx="62.5" cy="339" rx="8.3" ry="7.3" fill="#404040"/>
<path d="M81.3,336.0 L98.1,331.8 L110.6,338.1 L123.1,340.1 L121.0,350.6 L108.5,352.7 L91.8,346.4 Z" fill="#404040"/>
<path d="M83.4,371.5 L98.1,365.2 L112.7,356.9 L121.0,359.0 L116.9,369.4 L104.3,375.7 L91.8,379.8 L81.3,377.8 Z" fill="#404040"/>
<ellipse cx="73" cy="381" rx="14.6" ry="7.3" fill="#404040"/>
<path d="M62.5,394.5 L79.3,392.4 L91.8,396.6 L93.9,407.0 L87.6,417.5 L75.1,423.7 L64.6,421.6 L61.5,409.1 Z" fill="#404040"/>
<path d="M150.3,382.0 L154.5,388.2 L148.2,407.0 L139.8,423.7 L133.6,436.3 L123.1,434.2 L129.4,419.5 L131.5,404.9 L137.8,394.5 L141.9,386.1 Z" fill="#404040"/>
<ellipse cx="105" cy="455" rx="13" ry="4" fill="#404040"/>
<path d="M171.2,327.6 L185.8,321.3 L200.4,319.3 L217.2,325.5 L238.0,329.7 L258.9,331.8 L270.0,333.9 L270.0,342.0 L250.0,341.0 L230.0,339.0 L210.0,337.0 L190.0,338.0 L175.0,337.0 Z" fill="#404040"/>
<path d="M179.5,346.0 L200.0,348.0 L220.0,350.0 L240.0,348.0 L259.0,346.0 L254.8,352.7 L250.6,361.0 L238.0,365.2 L227.6,365.2 L217.2,361.0 L208.8,356.9 L196.3,352.7 L183.7,350.0 Z" fill="#404040"/>
<ellipse cx="206.7" cy="303.6" rx="10.4" ry="7.3" fill="#4a4a4a"/>
<ellipse cx="230.7" cy="306.7" rx="7.3" ry="6.3" fill="#4a4a4a"/>
<path d="M240.0,315.0 L252.0,309.0 L267.0,310.0 L267.0,322.0 L255.0,329.0 L243.0,326.0 Z" fill="#4a4a4a"/>
<path d="M245.4,369.4 L254.8,365.2 L270.0,369.4 L272.0,432.1 L263.1,415.4 L256.9,398.6 L250.6,386.1 L246.4,377.8 Z" fill="#404040"/>
<path d="M264.2,387.8 L285.1,383.6 L306.0,382.5 L322.7,387.8 L335.2,391.9 L345.7,396.1 L343.6,402.4 L322.7,406.6 L320.6,412.8 L333.1,425.4 L316.4,435.8 L326.9,446.3 L316.4,454.6 L339.4,458.8 L356.1,463.0 L377.0,477.6 L283.0,477.6 L283.0,463.0 L287.2,446.3 L285.1,431.6 L272.5,425.4 L266.3,414.9 L262.1,400.3 Z" fill="#3c3c3c"/>
<path d="M404.2,362.7 L410.4,350.1 L423.0,341.8 L437.6,335.5 L439.7,323.0 L443.9,318.8 L450.1,323.0 L456.4,335.5 L458.5,343.9 L452.2,352.2 L443.9,362.7 L435.5,369.0 L423.0,371.0 L410.4,372.1 L402.1,371.0 Z" fill="#404040"/>
<ellipse cx="402" cy="423.7" rx="6.3" ry="3.8" fill="#4a4a4a"/>
<path d="M647.6,437.9 L653.9,425.4 L670.6,419.1 L687.3,418.0 L687.3,423.3 L679.0,446.3 L670.6,467.2 L662.2,465.1 L651.8,458.8 L658.0,450.4 L649.7,444.2 Z" fill="#3c3c3c"/>
<path d="M510.4,423.5 L527.7,419.8 L549.9,421.0 L552.3,427.2 L537.5,432.0 L535.0,437.0 L549.9,439.5 L547.4,447.0 L537.5,451.9 L542.5,459.3 L562.2,464.2 L557.3,474.0 L542.5,475.3 L537.5,469.0 L527.7,464.2 L517.8,459.3 L488.0,459.3 L473.3,456.8 L473.3,454.3 L493.0,453.0 L508.0,451.9 L512.8,447.0 L505.4,442.0 L510.4,434.6 L505.4,427.2 Z" fill="#3c3c3c"/>
<path d="M340.0,459.3 L354.8,461.7 L362.2,469.0 L377.0,476.5 L340.0,477.6 Z" fill="#3c3c3c"/>
<ellipse cx="422.7" cy="474" rx="11" ry="2.6" fill="#3c3c3c"/>
<ellipse cx="448.6" cy="474" rx="5" ry="1.5" fill="#3c3c3c"/>
<ellipse cx="482.5" cy="468.5" rx="5.5" ry="2" fill="#3c3c3c"/>
<ellipse cx="506.6" cy="467.2" rx="6" ry="2" fill="#3c3c3c"/>
<ellipse cx="586" cy="471" rx="14" ry="4.5" fill="#3c3c3c"/>
<path d="M486.7,331.3 L495.1,329.3 L507.6,335.5 L518.1,331.3 L524.3,339.7 L526.4,348.1 L518.1,352.2 L507.6,352.2 L499.3,354.3 L495.1,364.8 L488.8,362.7 L482.5,346.0 Z" fill="#4a4a4a"/>
<ellipse cx="519" cy="401.3" rx="13.6" ry="7.3" fill="#4a4a4a"/>
<path d="M633.0,396.1 L641.3,387.8 L647.6,383.6 L658.0,375.2 L670.6,383.6 L672.7,389.8 L662.2,394.0 L653.9,400.3 L645.5,404.5 L635.1,404.5 Z" fill="#4a4a4a"/>
<ellipse cx="606.8" cy="377.3" rx="7.3" ry="4.2" fill="#4a4a4a"/>
<ellipse cx="486.7" cy="447.3" rx="8.4" ry="5.2" fill="#4a4a4a"/>
<ellipse cx="560" cy="31" rx="8" ry="3" fill="#4a4a4a"/>
<ellipse cx="586" cy="40" rx="8" ry="3" fill="#4a4a4a"/>
<ellipse cx="583" cy="62" rx="6" ry="4" fill="#404040"/>
<ellipse cx="600" cy="73" rx="4" ry="5" fill="#404040"/>
<ellipse cx="533" cy="88" rx="8" ry="5" fill="#404040"/>
<path d="M522.0,110.0 L535.0,103.0 L546.0,104.0 L540.0,112.0 L528.0,116.0 Z" fill="#404040"/>
<ellipse cx="149" cy="39" rx="6" ry="4" fill="#e050b8"/>
<ellipse cx="194" cy="39.5" rx="4.5" ry="2.5" fill="#e050b8"/>
<ellipse cx="256" cy="29" rx="4.5" ry="2" fill="#e050b8"/>
<ellipse cx="212" cy="27" rx="2.5" ry="1.5" fill="#e050b8"/>
<ellipse cx="305" cy="38.5" rx="3.5" ry="2.5" fill="#e050b8"/>
<ellipse cx="477.8" cy="124" rx="5" ry="3" fill="#e050b8"/>
<ellipse cx="464" cy="120.8" rx="3" ry="2" fill="#e050b8"/>
<ellipse cx="506.7" cy="121.9" rx="3" ry="2" fill="#e050b8"/>
<ellipse cx="509.4" cy="113" rx="3" ry="2" fill="#e050b8"/>
<ellipse cx="625.1" cy="107.5" rx="5" ry="3" fill="#e050b8"/>
<ellipse cx="634.7" cy="113" rx="2.5" ry="2" fill="#e050b8"/>
<ellipse cx="627" cy="126.8" rx="3" ry="2" fill="#e050b8"/>
<ellipse cx="578.3" cy="146.9" rx="5" ry="3.5" fill="#e050b8"/>
<ellipse cx="561.8" cy="141.1" rx="3.5" ry="2.5" fill="#e050b8"/>
<ellipse cx="594.8" cy="151" rx="3.5" ry="2.2" fill="#e050b8"/>
<ellipse cx="621" cy="148.3" rx="3" ry="2" fill="#e050b8"/>
<ellipse cx="641.6" cy="137.8" rx="2" ry="2.5" fill="#e050b8"/>
<ellipse cx="451.6" cy="164.8" rx="4" ry="2.5" fill="#e050b8"/>
<ellipse cx="408.4" cy="170.9" rx="4" ry="2.5" fill="#e050b8"/>
<ellipse cx="450.2" cy="173.6" rx="2.5" ry="2" fill="#e050b8"/>
<ellipse cx="453" cy="181.3" rx="3.5" ry="2.2" fill="#e050b8"/>
<ellipse cx="461.2" cy="197" rx="2.5" ry="2" fill="#e050b8"/>
<ellipse cx="469.5" cy="209.4" rx="3.5" ry="2.2" fill="#e050b8"/>
<ellipse cx="463.4" cy="215.5" rx="2.5" ry="2" fill="#e050b8"/>
<ellipse cx="437.8" cy="214.4" rx="4" ry="2.5" fill="#e050b8"/>
<ellipse cx="453" cy="220.5" rx="2" ry="1.6" fill="#e050b8"/>
<ellipse cx="475" cy="227.3" rx="3" ry="2" fill="#e050b8"/>
<ellipse cx="469.5" cy="251.3" rx="5" ry="3.5" fill="#e050b8"/>
<ellipse cx="487.4" cy="272.8" rx="3.5" ry="2.2" fill="#e050b8"/>
<ellipse cx="499" cy="269.5" rx="3.5" ry="2.5" fill="#e050b8"/>
<ellipse cx="600.3" cy="197" rx="2.5" ry="2" fill="#e050b8"/>
<ellipse cx="523.2" cy="147.5" rx="2.5" ry="2" fill="#e050b8"/>
<ellipse cx="388.3" cy="115.8" rx="2" ry="2" fill="#e050b8"/>
<ellipse cx="407.5" cy="120.8" rx="3" ry="2" fill="#e050b8"/>
<ellipse cx="297" cy="169" rx="8" ry="5.5" fill="#e050b8"/>
<ellipse cx="294" cy="438.5" rx="4.7" ry="5.8" fill="#e050b8"/>
<ellipse cx="320.6" cy="384" rx="6.3" ry="4.2" fill="#e050b8"/>
<ellipse cx="427" cy="376" rx="6" ry="4" fill="#e050b8"/>
<path d="M570.0,442.0 L576.0,444.0 L578.0,455.0 L572.0,467.0 L566.0,465.0 L570.0,455.0 Z" fill="#e050b8"/>
<ellipse cx="245.4" cy="385" rx="3.2" ry="7.3" fill="#e050b8"/>
<path d="M588.0,50.0 L602.0,46.0 L600.0,54.0 L590.0,57.0 Z" fill="#e050b8"/>
<ellipse cx="299.7" cy="244.2" rx="6.3" ry="5.2" fill="#e050b8"/>
<ellipse cx="420" cy="325" rx="2.5" ry="2" fill="#e050b8"/>
<ellipse cx="500" cy="178" rx="3" ry="2" fill="#e050b8"/>
<ellipse cx="470" cy="150" rx="2" ry="2" fill="#e050b8"/>
</g>
</g>
<path transform="translate(-1,517)" d="M339.8,178.4 L345.5,174.6 L356.0,173.7 L368.3,169.0 L374.0,173.7 L376.9,184.0 L369.3,187.0 L357.9,190.8 L348.4,195.5 L340.8,190.8 L338.9,185.0 Z M319.0,220.0 L322.0,215.0 L329.0,213.5 L334.0,216.0 L335.0,222.0 L326.0,222.5 Z M450.4,410.0 L456.0,402.0 L468.0,401.0 L482.0,404.0 L495.0,410.0 L502.0,418.0 L495.0,423.5 L478.0,423.7 L462.0,421.0 L452.0,417.0 Z M371.3,29.0 L375.0,26.7 L379.7,28.5 L377.0,32.0 L373.0,32.0 Z" fill="#fff"/>
<clipPath id="insClip1"><rect x="0" y="0" width="211" height="213"/></clipPath>
<g transform="translate(717.5,541.8)" clip-path="url(#insClip1)">
<rect x="0" y="0" width="211" height="213" fill="#80b4f8"/>
<g filter="url(#blur8)">
<circle cx="56" cy="25" r="45" fill="#80f8f8"/>
<circle cx="40" cy="50" r="30" fill="#80f4f8"/>
<circle cx="95" cy="12" r="14" fill="#8a98f8"/>
<circle cx="125" cy="42" r="24" fill="#8084fc"/>
<circle cx="165" cy="40" r="22" fill="#7f8ef8"/>
<circle cx="204" cy="85" r="16" fill="#8a7cfc"/>
<circle cx="200" cy="120" r="18" fill="#80c8f8"/>
<circle cx="202" cy="155" r="26" fill="#80e4f8"/>
<circle cx="121" cy="172" r="22" fill="#8080f8"/>
<circle cx="160" cy="168" r="18" fill="#80a4f8"/>
<circle cx="14" cy="190" r="26" fill="#80d8f8"/>
<circle cx="61" cy="208" r="14" fill="#8a70f0"/>
<circle cx="180" cy="182" r="14" fill="#80d0f8"/>
<circle cx="100" cy="185" r="14" fill="#8a84f8"/>
</g>
<path d="M78.0,0.0 L82.0,6.0 L92.9,12.6 L103.6,21.0 L112.0,27.4 L125.0,30.6 L142.0,29.9 L163.5,29.9 L174.0,31.2 L180.6,36.0 L184.8,44.4 L189.0,55.1 L197.6,65.8 L206.0,78.6 L211.0,82.9 L211.0,0.0 Z" fill="#d9d9d9"/>
<path d="M78.0,213.0 L80.0,202.6 L86.5,192.0 L99.4,183.3 L120.7,177.0 L142.0,174.8 L163.5,173.7 L178.4,174.8 L180.6,185.5 L189.0,198.3 L197.6,206.8 L206.0,213.0 Z" fill="#d9d9d9"/>
<path d="M0.0,0.0 L32.7,0.0 L32.7,65.8 L48.0,70.0 L63.0,63.7 L82.3,53.0 L112.0,48.7 L131.4,46.6 L142.0,45.5 L155.0,50.9 L174.0,55.0 L191.0,59.4 L197.6,68.0 L193.4,78.6 L192.3,89.3 L193.4,104.3 L189.0,121.4 L187.0,138.5 L176.3,144.9 L155.0,155.6 L142.0,162.0 L120.7,163.0 L99.4,166.2 L82.3,172.6 L63.0,187.6 L54.5,187.6 L43.8,179.0 L18.2,179.0 L11.8,168.4 L0.0,164.0 Z" fill="#737373"/>
<ellipse cx="107" cy="71" rx="7" ry="5" fill="#e05cc0"/>
<ellipse cx="85" cy="82" rx="7" ry="4.5" fill="#e05cc0"/>
<ellipse cx="146" cy="78" rx="7" ry="5" fill="#e05cc0"/>
<ellipse cx="187" cy="62" rx="5" ry="3.5" fill="#e05cc0"/>
<ellipse cx="166" cy="71" rx="3" ry="2" fill="#e05cc0"/>
<ellipse cx="110" cy="105" rx="4" ry="4" fill="#e05cc0"/>
<ellipse cx="162" cy="101" rx="7" ry="5.5" fill="#e05cc0"/>
<ellipse cx="21" cy="132" rx="4.5" ry="4.5" fill="#e05cc0"/>
<ellipse cx="33" cy="165" rx="5" ry="4" fill="#e05cc0"/>
<ellipse cx="55" cy="163" rx="6" ry="3.5" fill="#e05cc0"/>
<ellipse cx="41" cy="180" rx="7" ry="4" fill="#e05cc0"/>
<ellipse cx="175" cy="147" rx="5" ry="3" fill="#e05cc0"/>
<ellipse cx="106" cy="161" rx="3" ry="2" fill="#e05cc0"/>
<ellipse cx="191" cy="80" rx="3" ry="3" fill="#e05cc0"/>
<ellipse cx="6" cy="88" rx="7" ry="5" fill="#e05cc0"/>
</g>
<clipPath id="insClip2"><rect x="0" y="0" width="211" height="213"/></clipPath>
<g transform="translate(717.2,772.6)" clip-path="url(#insClip2)">
<rect x="0" y="0" width="211" height="213" fill="#7c8cf8"/>
<g filter="url(#blur8)">
<circle cx="45" cy="48" r="18" fill="#80f8e0"/>
<circle cx="50" cy="20" r="22" fill="#70c8f8"/>
<circle cx="85" cy="20" r="14" fill="#8060f4"/>
<circle cx="110" cy="35" r="16" fill="#7f60f4"/>
<circle cx="150" cy="36" r="16" fill="#8070f6"/>
<circle cx="190" cy="45" r="10" fill="#8a60f4"/>
<circle cx="205" cy="100" r="14" fill="#7f60f4"/>
<circle cx="200" cy="140" r="16" fill="#80b8f8"/>
<circle cx="190" cy="165" r="16" fill="#8070f4"/>
<circle cx="121" cy="172" r="20" fill="#7f68f2"/>
<circle cx="15" cy="185" r="24" fill="#70a8f8"/>
<circle cx="70" cy="205" r="16" fill="#8050ee"/>
<circle cx="180" cy="195" r="14" fill="#8058f0"/>
</g>
<path d="M74.0,0.0 L76.3,7.5 L84.8,13.9 L95.5,20.3 L108.3,27.8 L121.0,32.0 L142.5,32.0 L174.6,33.0 L181.0,37.4 L185.0,48.0 L191.7,56.6 L200.0,69.4 L206.6,82.3 L211.0,86.5 L211.0,0.0 Z" fill="#d9d9d9"/>
<path d="M63.5,214.0 L74.0,206.0 L82.7,197.6 L95.5,184.8 L110.5,178.4 L131.8,174.0 L164.0,172.0 L183.0,172.0 L185.0,180.6 L191.7,193.4 L202.4,204.0 L211.0,206.0 L211.0,214.0 Z" fill="#d9d9d9"/>
<path d="M0.0,0.0 L32.7,0.0 L32.7,65.8 L48.0,70.0 L63.0,63.7 L82.3,53.0 L112.0,48.7 L131.4,46.6 L142.0,45.5 L155.0,50.9 L174.0,55.0 L191.0,59.4 L197.6,68.0 L193.4,78.6 L192.3,89.3 L193.4,104.3 L189.0,121.4 L187.0,138.5 L176.3,144.9 L155.0,155.6 L142.0,162.0 L120.7,163.0 L99.4,166.2 L82.3,172.6 L63.0,187.6 L54.5,187.6 L43.8,179.0 L18.2,179.0 L11.8,168.4 L0.0,164.0 Z" fill="#737373"/>
<ellipse cx="107" cy="71" rx="7" ry="5" fill="#e05cc0"/>
<ellipse cx="85" cy="82" rx="7" ry="4.5" fill="#e05cc0"/>
<ellipse cx="146" cy="78" rx="7" ry="5" fill="#e05cc0"/>
<ellipse cx="187" cy="62" rx="5" ry="3.5" fill="#e05cc0"/>
<ellipse cx="166" cy="71" rx="3" ry="2" fill="#e05cc0"/>
<ellipse cx="110" cy="105" rx="4" ry="4" fill="#e05cc0"/>
<ellipse cx="162" cy="101" rx="7" ry="5.5" fill="#e05cc0"/>
<ellipse cx="21" cy="132" rx="4.5" ry="4.5" fill="#e05cc0"/>
<ellipse cx="33" cy="165" rx="5" ry="4" fill="#e05cc0"/>
<ellipse cx="55" cy="163" rx="6" ry="3.5" fill="#e05cc0"/>
<ellipse cx="41" cy="180" rx="7" ry="4" fill="#e05cc0"/>
<ellipse cx="175" cy="147" rx="5" ry="3" fill="#e05cc0"/>
<ellipse cx="106" cy="161" rx="3" ry="2" fill="#e05cc0"/>
<ellipse cx="191" cy="80" rx="3" ry="3" fill="#e05cc0"/>
<ellipse cx="6" cy="88" rx="7" ry="5" fill="#e05cc0"/>
</g>
<rect x="724" y="734" width="76" height="7" fill="#000"/>
<text x="829.2" y="564.6" font-size="25.5" textLength="55" lengthAdjust="spacingAndGlyphs">Pore</text>
<text x="756.5" y="587.2" font-size="26.6" textLength="101.2" lengthAdjust="spacingAndGlyphs">Ionomer</text>
<text transform="translate(743,638.9) rotate(-90)" x="0" y="0" font-size="27.9" fill="#fff" textLength="91.5" lengthAdjust="spacingAndGlyphs">Carbon</text>
<rect x="989.6" y="571.2" width="16.8" height="175.6" fill="url(#cbar)" stroke="#222" stroke-width="1.2"/>
<path d="M1006.4,606.1 H1016.8" stroke="#222" stroke-width="1.3"/>
<text x="1025.6" y="613.9" font-size="22">20</text>
<path d="M1006.4,641.2 H1016.8" stroke="#222" stroke-width="1.3"/>
<text x="1025.6" y="649.0" font-size="22">15</text>
<path d="M1006.4,676.5 H1016.8" stroke="#222" stroke-width="1.3"/>
<text x="1025.6" y="684.3" font-size="22">10</text>
<path d="M1006.4,711.4 H1016.8" stroke="#222" stroke-width="1.3"/>
<text x="1025.6" y="719.2" font-size="22">5</text>
<text x="988.2" y="560.8" font-size="27.5" textLength="37.2" lengthAdjust="spacingAndGlyphs">nm</text>
<text transform="translate(971.3,748.3) rotate(-90)" x="0" y="0" font-size="28.3" textLength="193" lengthAdjust="spacingAndGlyphs">Local thickness</text>
<rect x="989.6" y="802.2" width="16.8" height="175.3" fill="url(#cbar)" stroke="#222" stroke-width="1.2"/>
<path d="M1006.4,837.7 H1016.8" stroke="#222" stroke-width="1.3"/>
<text x="1025.6" y="845.5" font-size="22">20</text>
<path d="M1006.4,872.6 H1016.8" stroke="#222" stroke-width="1.3"/>
<text x="1025.6" y="880.4" font-size="22">15</text>
<path d="M1006.4,907.3 H1016.8" stroke="#222" stroke-width="1.3"/>
<text x="1025.6" y="915.1" font-size="22">10</text>
<path d="M1006.4,942.4 H1016.8" stroke="#222" stroke-width="1.3"/>
<text x="1025.6" y="950.2" font-size="22">5</text>
<text x="988.2" y="793" font-size="27.5" textLength="37.2" lengthAdjust="spacingAndGlyphs">nm</text>
<text transform="translate(970.6,1010.2) rotate(-90)" x="0" y="0" font-size="28.3" textLength="242.4" lengthAdjust="spacingAndGlyphs">Distance from pore</text>
<path d="M227.9,1239.7 C228.5,1235.0 230.4,1221.9 231.7,1211.6 C233.0,1201.3 234.2,1187.7 235.5,1178.1 C236.8,1168.5 237.9,1161.4 239.3,1153.8 C240.7,1146.2 242.1,1139.3 243.9,1132.5 C245.7,1125.7 248.0,1117.5 250.0,1112.8 C252.0,1108.1 254.1,1106.1 256.0,1104.4 C257.9,1102.8 259.3,1102.8 261.3,1102.9 C263.3,1103.0 265.5,1103.3 268.2,1105.2 C270.9,1107.1 274.3,1110.5 277.3,1114.3 C280.3,1118.1 283.4,1122.7 286.4,1128.0 C289.4,1133.3 292.4,1139.4 295.5,1146.2 C298.6,1153.0 301.6,1161.2 304.7,1169.0 C307.8,1176.8 311.0,1186.0 313.8,1193.3 C316.6,1200.6 319.1,1207.3 321.4,1213.1 C323.7,1218.9 324.9,1223.8 327.4,1228.3 C329.9,1232.8 333.5,1236.1 336.6,1240.4 C339.7,1244.7 342.9,1249.7 346.0,1254.0 C349.1,1258.3 351.1,1260.3 355.2,1266.0 C359.3,1271.7 365.3,1280.9 370.4,1288.0 C375.5,1295.1 380.5,1301.2 385.6,1308.4 C390.7,1315.6 396.5,1325.4 400.8,1331.2 C405.1,1337.0 407.6,1340.0 411.4,1343.3 C415.2,1346.6 419.0,1348.7 423.6,1351.0 C428.2,1353.3 433.7,1355.2 438.8,1357.0 C443.9,1358.8 448.9,1360.1 454.0,1361.6 C459.1,1363.1 464.1,1364.6 469.2,1366.1 C474.3,1367.6 479.3,1369.2 484.4,1370.7 C489.5,1372.2 495.0,1373.9 500.0,1375.2 C505.0,1376.5 509.2,1377.3 514.2,1378.6 C519.2,1379.9 524.4,1382.2 530.1,1383.2 C535.8,1384.2 543.1,1383.5 548.4,1384.3 C553.7,1385.0 557.1,1386.4 562.0,1387.7 C566.9,1389.0 571.9,1391.0 578.0,1392.3 C584.1,1393.6 591.3,1394.7 598.5,1395.7 C605.7,1396.7 613.7,1397.7 621.3,1398.5 C628.9,1399.3 635.4,1400.0 644.1,1400.7 C652.8,1401.4 661.1,1402.1 673.7,1402.6 C686.4,1403.1 699.0,1403.4 720.0,1403.7 C741.0,1404.0 769.6,1404.3 800.0,1404.5 C830.4,1404.7 885.2,1404.9 902.3,1405.0 L902.3,1405 L227.9,1405 Z" fill="#eae585"/>
<path d="M227.9,1239.7 C228.5,1235.0 230.4,1221.9 231.7,1211.6 C233.0,1201.3 234.2,1187.7 235.5,1178.1 C236.8,1168.5 237.9,1161.4 239.3,1153.8 C240.7,1146.2 242.1,1139.3 243.9,1132.5 C245.7,1125.7 248.0,1117.5 250.0,1112.8 C252.0,1108.1 254.1,1106.1 256.0,1104.4 C257.9,1102.8 259.3,1102.8 261.3,1102.9 C263.3,1103.0 265.5,1103.3 268.2,1105.2 C270.9,1107.1 274.3,1110.5 277.3,1114.3 C280.3,1118.1 283.4,1122.7 286.4,1128.0 C289.4,1133.3 292.4,1139.4 295.5,1146.2 C298.6,1153.0 301.6,1161.2 304.7,1169.0 C307.8,1176.8 311.0,1186.0 313.8,1193.3 C316.6,1200.6 319.1,1207.3 321.4,1213.1 C323.7,1218.9 324.9,1223.8 327.4,1228.3 C329.9,1232.8 335.1,1238.4 336.6,1240.4" fill="none" stroke="#000" stroke-width="3.2"/>
<path d="M227.9,1276.1 C228.5,1272.9 230.0,1265.3 231.7,1257.1 C233.3,1248.9 235.8,1235.6 237.8,1226.8 C239.8,1218.0 241.6,1211.3 243.9,1204.0 C246.2,1196.7 249.2,1187.7 251.5,1182.7 C253.8,1177.8 255.5,1176.1 257.5,1174.3 C259.5,1172.5 261.3,1172.1 263.6,1172.1 C265.9,1172.1 268.1,1172.5 271.2,1174.3 C274.2,1176.1 278.1,1179.3 281.9,1182.7 C285.7,1186.1 289.9,1190.5 294.0,1194.8 C298.1,1199.1 302.1,1203.9 306.2,1208.5 C310.2,1213.1 314.8,1218.5 318.3,1222.2 C321.8,1225.9 323.8,1227.3 327.4,1230.6 C330.9,1233.9 336.1,1238.6 339.6,1242.0 C343.2,1245.4 345.9,1247.8 348.7,1251.1 C351.5,1254.4 353.4,1257.7 356.3,1261.7 C359.2,1265.7 362.2,1270.5 365.8,1275.0 C369.4,1279.5 373.4,1284.0 378.0,1288.6 C382.6,1293.1 388.1,1298.2 393.2,1302.3 C398.3,1306.4 403.3,1309.7 408.4,1313.0 C413.5,1316.3 418.5,1319.1 423.6,1322.0 C428.7,1324.9 433.7,1327.9 438.8,1330.4 C443.9,1333.0 448.9,1334.6 454.0,1337.3 C459.1,1340.0 464.1,1343.6 469.2,1346.4 C474.3,1349.2 479.3,1352.1 484.4,1354.0 C489.5,1355.9 493.9,1356.3 500.0,1357.8 C506.1,1359.2 514.5,1360.9 521.0,1362.7 C527.5,1364.5 533.2,1365.9 539.3,1368.4 C545.4,1370.9 551.4,1374.7 557.5,1377.5 C563.6,1380.3 569.6,1383.6 575.7,1385.5 C581.8,1387.4 587.1,1388.0 594.0,1388.9 C600.9,1389.9 609.2,1390.2 616.8,1391.2 C624.4,1392.2 631.9,1393.5 639.5,1394.6 C647.1,1395.6 654.7,1396.8 662.3,1397.5 C669.9,1398.2 675.5,1398.2 685.1,1398.5 C694.7,1398.8 701.9,1398.7 720.0,1399.6 C738.1,1400.5 763.6,1403.1 794.0,1404.0 C824.4,1404.9 884.2,1404.8 902.3,1405.0 L902.3,1405 L227.9,1405 Z" fill="#6be2e8"/>
<path d="M327.4,1228.3 C328.9,1230.3 333.5,1236.1 336.6,1240.4 C339.7,1244.7 342.9,1249.7 346.0,1254.0 C349.1,1258.3 351.1,1260.3 355.2,1266.0 C359.3,1271.7 365.3,1280.9 370.4,1288.0 C375.5,1295.1 380.5,1301.2 385.6,1308.4 C390.7,1315.6 396.5,1325.4 400.8,1331.2 C405.1,1337.0 407.6,1340.0 411.4,1343.3 C415.2,1346.6 419.0,1348.7 423.6,1351.0 C428.2,1353.3 433.7,1355.2 438.8,1357.0 C443.9,1358.8 448.9,1360.1 454.0,1361.6 C459.1,1363.1 464.1,1364.6 469.2,1366.1 C474.3,1367.6 479.3,1369.2 484.4,1370.7 C489.5,1372.2 495.0,1373.9 500.0,1375.2 C505.0,1376.5 509.2,1377.3 514.2,1378.6 C519.2,1379.9 524.4,1382.2 530.1,1383.2 C535.8,1384.2 543.1,1383.5 548.4,1384.3 C553.7,1385.0 557.1,1386.4 562.0,1387.7 C566.9,1389.0 571.9,1391.0 578.0,1392.3 C584.1,1393.6 591.3,1394.7 598.5,1395.7 C605.7,1396.7 613.7,1397.7 621.3,1398.5 C628.9,1399.3 635.4,1400.0 644.1,1400.7 C652.8,1401.4 661.1,1402.1 673.7,1402.6 C686.4,1403.1 699.0,1403.4 720.0,1403.7 C741.0,1404.0 769.6,1404.3 800.0,1404.5 C830.4,1404.7 885.2,1404.9 902.3,1405.0" fill="none" stroke="#2aa8c8" stroke-width="3" stroke-opacity="0.6"/>
<path d="M227.9,1276.1 C228.5,1272.9 230.0,1265.3 231.7,1257.1 C233.3,1248.9 235.8,1235.6 237.8,1226.8 C239.8,1218.0 241.6,1211.3 243.9,1204.0 C246.2,1196.7 249.2,1187.7 251.5,1182.7 C253.8,1177.8 255.5,1176.1 257.5,1174.3 C259.5,1172.5 261.3,1172.1 263.6,1172.1 C265.9,1172.1 268.1,1172.5 271.2,1174.3 C274.2,1176.1 278.1,1179.3 281.9,1182.7 C285.7,1186.1 289.9,1190.5 294.0,1194.8 C298.1,1199.1 302.1,1203.9 306.2,1208.5 C310.2,1213.1 314.8,1218.5 318.3,1222.2 C321.8,1225.9 323.8,1227.3 327.4,1230.6 C330.9,1233.9 336.1,1238.6 339.6,1242.0 C343.2,1245.4 345.9,1247.8 348.7,1251.1 C351.5,1254.4 353.4,1257.7 356.3,1261.7 C359.2,1265.7 362.2,1270.5 365.8,1275.0 C369.4,1279.5 373.4,1284.0 378.0,1288.6 C382.6,1293.1 388.1,1298.2 393.2,1302.3 C398.3,1306.4 403.3,1309.7 408.4,1313.0 C413.5,1316.3 418.5,1319.1 423.6,1322.0 C428.7,1324.9 433.7,1327.9 438.8,1330.4 C443.9,1333.0 448.9,1334.6 454.0,1337.3 C459.1,1340.0 464.1,1343.6 469.2,1346.4 C474.3,1349.2 479.3,1352.1 484.4,1354.0 C489.5,1355.9 493.9,1356.3 500.0,1357.8 C506.1,1359.2 514.5,1360.9 521.0,1362.7 C527.5,1364.5 533.2,1365.9 539.3,1368.4 C545.4,1370.9 551.4,1374.7 557.5,1377.5 C563.6,1380.3 569.6,1383.6 575.7,1385.5 C581.8,1387.4 587.1,1388.0 594.0,1388.9 C600.9,1389.9 609.2,1390.2 616.8,1391.2 C624.4,1392.2 631.9,1393.5 639.5,1394.6 C647.1,1395.6 654.7,1396.8 662.3,1397.5 C669.9,1398.2 675.5,1398.2 685.1,1398.5 C694.7,1398.8 701.9,1398.7 720.0,1399.6 C738.1,1400.5 763.6,1403.1 794.0,1404.0 C824.4,1404.9 884.2,1404.8 902.3,1405.0" fill="none" stroke="#000" stroke-width="3.2"/>
<path d="M227.9,1383.7 C229.6,1381.9 234.1,1377.6 237.8,1373.1 C241.5,1368.5 245.7,1363.2 250.0,1356.4 C254.3,1349.6 259.1,1339.7 263.6,1332.1 C268.2,1324.5 272.7,1317.6 277.3,1310.8 C281.9,1304.0 286.2,1297.1 291.0,1291.0 C295.8,1284.9 301.1,1278.8 306.2,1274.3 C311.3,1269.8 316.3,1266.2 321.4,1263.7 C326.5,1261.2 331.0,1259.7 336.6,1259.4 C342.2,1259.1 349.6,1260.4 355.2,1262.0 C360.8,1263.6 365.3,1266.2 370.4,1268.9 C375.5,1271.6 380.5,1275.1 385.6,1278.0 C390.7,1280.9 395.7,1283.6 400.8,1286.3 C405.9,1289.0 410.9,1291.5 416.0,1294.0 C421.1,1296.5 426.1,1299.1 431.2,1301.5 C436.3,1303.9 441.3,1306.2 446.4,1308.4 C451.5,1310.6 456.5,1312.5 461.6,1314.5 C466.7,1316.5 470.4,1318.2 476.8,1320.5 C483.2,1322.8 492.6,1325.4 500.0,1328.1 C507.4,1330.8 513.7,1334.2 521.0,1336.5 C528.3,1338.8 536.2,1340.5 543.8,1342.2 C551.4,1343.9 559.8,1344.8 566.6,1346.7 C573.4,1348.6 578.0,1351.1 584.8,1353.6 C591.6,1356.1 600.8,1359.4 607.6,1361.5 C614.5,1363.6 619.8,1365.2 625.9,1366.1 C632.0,1366.9 638.0,1367.2 644.1,1366.6 C650.2,1366.0 655.5,1363.8 662.3,1362.7 C669.1,1361.6 678.2,1359.5 685.1,1359.7 C692.0,1359.9 698.6,1362.3 703.4,1363.8 C708.2,1365.3 709.3,1366.3 713.7,1368.7 C718.1,1371.1 724.3,1375.2 729.6,1377.9 C734.9,1380.6 739.9,1382.8 745.6,1384.7 C751.3,1386.6 757.0,1388.2 763.8,1389.3 C770.6,1390.4 778.2,1391.0 786.6,1391.5 C795.0,1392.0 804.9,1392.0 814.0,1392.0 C823.1,1392.0 832.9,1391.8 841.3,1391.5 C849.6,1391.2 857.6,1390.6 864.1,1390.4 C870.6,1390.2 875.2,1390.0 880.1,1390.4 C885.0,1390.8 890.0,1391.9 893.7,1392.7 C897.4,1393.5 901.0,1394.6 902.4,1395.0 L902.4,1405 L227.9,1405 Z" fill="rgb(219,90,182)" fill-opacity="0.61"/>
<path d="M227.9,1383.7 C229.6,1381.9 234.1,1377.6 237.8,1373.1 C241.5,1368.5 245.7,1363.2 250.0,1356.4 C254.3,1349.6 259.1,1339.7 263.6,1332.1 C268.2,1324.5 272.7,1317.6 277.3,1310.8 C281.9,1304.0 286.2,1297.1 291.0,1291.0 C295.8,1284.9 301.1,1278.8 306.2,1274.3 C311.3,1269.8 316.3,1266.2 321.4,1263.7 C326.5,1261.2 331.0,1259.7 336.6,1259.4 C342.2,1259.1 349.6,1260.4 355.2,1262.0 C360.8,1263.6 365.3,1266.2 370.4,1268.9 C375.5,1271.6 380.5,1275.1 385.6,1278.0 C390.7,1280.9 395.7,1283.6 400.8,1286.3 C405.9,1289.0 410.9,1291.5 416.0,1294.0 C421.1,1296.5 426.1,1299.1 431.2,1301.5 C436.3,1303.9 441.3,1306.2 446.4,1308.4 C451.5,1310.6 456.5,1312.5 461.6,1314.5 C466.7,1316.5 470.4,1318.2 476.8,1320.5 C483.2,1322.8 492.6,1325.4 500.0,1328.1 C507.4,1330.8 513.7,1334.2 521.0,1336.5 C528.3,1338.8 536.2,1340.5 543.8,1342.2 C551.4,1343.9 559.8,1344.8 566.6,1346.7 C573.4,1348.6 578.0,1351.1 584.8,1353.6 C591.6,1356.1 600.8,1359.4 607.6,1361.5 C614.5,1363.6 619.8,1365.2 625.9,1366.1 C632.0,1366.9 638.0,1367.2 644.1,1366.6 C650.2,1366.0 655.5,1363.8 662.3,1362.7 C669.1,1361.6 678.2,1359.5 685.1,1359.7 C692.0,1359.9 698.6,1362.3 703.4,1363.8 C708.2,1365.3 709.3,1366.3 713.7,1368.7 C718.1,1371.1 724.3,1375.2 729.6,1377.9 C734.9,1380.6 739.9,1382.8 745.6,1384.7 C751.3,1386.6 757.0,1388.2 763.8,1389.3 C770.6,1390.4 778.2,1391.0 786.6,1391.5 C795.0,1392.0 804.9,1392.0 814.0,1392.0 C823.1,1392.0 832.9,1391.8 841.3,1391.5 C849.6,1391.2 857.6,1390.6 864.1,1390.4 C870.6,1390.2 875.2,1390.0 880.1,1390.4 C885.0,1390.8 890.0,1391.9 893.7,1392.7 C897.4,1393.5 901.0,1394.6 902.4,1395.0" fill="none" stroke="#000" stroke-width="3.2"/>
<g stroke="#333" stroke-width="1.3" fill="none">
<path d="M183,1037 H932.5 V1405"/>
</g>
<g stroke="#555" stroke-width="1.6" fill="none">
<path d="M183,1037 V1405 H932.5"/>
<path d="M183,1405.5 H171.3"/>
<path d="M183,1376.0 H177.2"/>
<path d="M183,1346.5 H177.2"/>
<path d="M183,1317.0 H177.2"/>
<path d="M183,1287.5 H177.2"/>
<path d="M183,1258.0 H171.3"/>
<path d="M183,1228.5 H177.2"/>
<path d="M183,1199.0 H177.2"/>
<path d="M183,1169.5 H177.2"/>
<path d="M183,1140.0 H177.2"/>
<path d="M183,1110.5 H171.3"/>
<path d="M183,1081.0 H177.2"/>
<path d="M183,1051.5 H177.2"/>
<path d="M182.4,1405 V1415.8"/>
<path d="M242.4,1405 V1411.0"/>
<path d="M302.4,1405 V1415.8"/>
<path d="M362.3,1405 V1411.0"/>
<path d="M422.3,1405 V1415.8"/>
<path d="M482.3,1405 V1411.0"/>
<path d="M542.3,1405 V1415.8"/>
<path d="M602.3,1405 V1411.0"/>
<path d="M662.2,1405 V1415.8"/>
<path d="M722.2,1405 V1411.0"/>
<path d="M782.2,1405 V1415.8"/>
<path d="M842.2,1405 V1411.0"/>
<path d="M902.2,1405 V1415.8"/>
</g>
<text x="182.4" y="1446.5" font-size="22.6" text-anchor="middle">0</text>
<text x="302.4" y="1446.5" font-size="22.6" text-anchor="middle">4</text>
<text x="422.3" y="1446.5" font-size="22.6" text-anchor="middle">8</text>
<text x="542.3" y="1446.5" font-size="22.6" text-anchor="middle">12</text>
<text x="662.2" y="1446.5" font-size="22.6" text-anchor="middle">16</text>
<text x="782.2" y="1446.5" font-size="22.6" text-anchor="middle">20</text>
<text x="902.2" y="1446.5" font-size="22.6" text-anchor="middle">24</text>
<text x="159" y="1413.3" font-size="22.6" text-anchor="end">0</text>
<text x="159" y="1265.8" font-size="22.6" text-anchor="end">0.1</text>
<text x="159" y="1118.3" font-size="22.6" text-anchor="end">0.2</text>
<text transform="translate(103.4,1274.2) rotate(-90)" x="0" y="0" font-size="28" textLength="93.2" lengthAdjust="spacingAndGlyphs">Density</text>
<text x="404.1" y="1491.5" font-size="28" textLength="296.2" lengthAdjust="spacingAndGlyphs">Ionomer thickness (nm)</text>
<rect x="596" y="1081.3" width="62" height="15" fill="#e9e585"/>
<rect x="596" y="1116.1" width="62" height="15.4" fill="#6ce5f8"/>
<rect x="596" y="1151.2" width="62" height="15.7" fill="#e899d2"/>
<text x="671.2" y="1098" font-size="28.4" textLength="235" lengthAdjust="spacingAndGlyphs">Platinum coverage</text>
<text x="671.2" y="1133" font-size="28.4" textLength="217.2" lengthAdjust="spacingAndGlyphs">Carbon coverage</text>
<text x="671.2" y="1167.8" font-size="28.4" textLength="103.5" lengthAdjust="spacingAndGlyphs">Network</text>
</svg></body></html>
